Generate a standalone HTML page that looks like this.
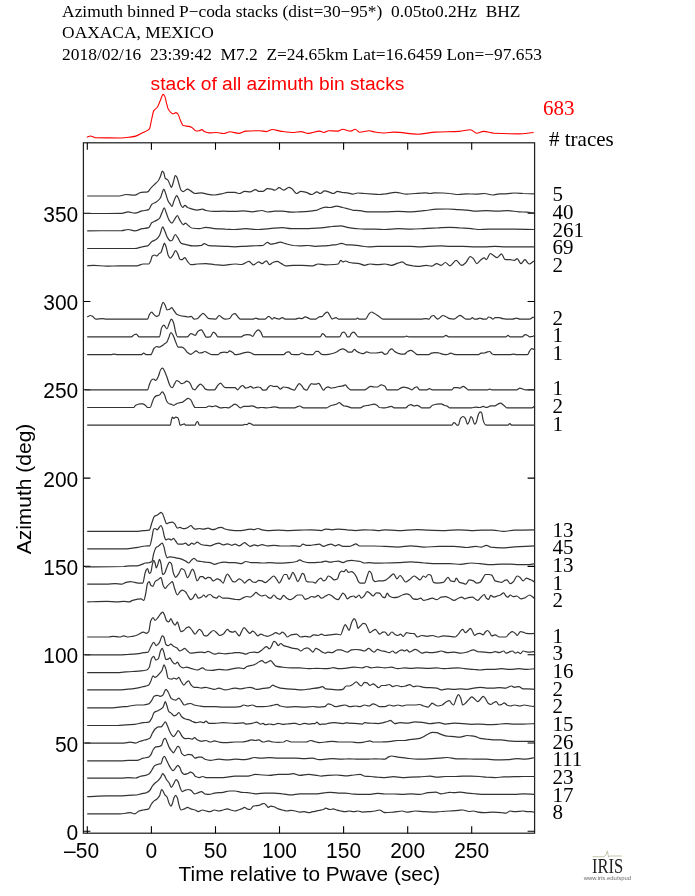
<!DOCTYPE html><html><head><meta charset="utf-8"><style>
html,body{margin:0;padding:0;background:#fff;}svg{display:block}
.serif{font-family:"Liberation Serif","Times New Roman",serif}
.sans{font-family:"Liberation Sans",Arial,sans-serif}
</style></head><body>
<svg width="695" height="896" viewBox="0 0 695 896">
<rect width="100%" height="100%" fill="#fff"/>
<g class="serif" font-size="17.4" fill="#000">
<text x="62.1" y="17.0">Azimuth binned P&#8722;coda stacks (dist=30&#8722;95*)&#160; 0.05to0.2Hz&#160; BHZ</text>
<text x="62.1" y="38.3">OAXACA, MEXICO</text>
<text x="62.1" y="59.5">2018/02/16&#160; 23:39:42&#160; M7.2&#160; Z=24.65km Lat=16.6459 Lon=&#8722;97.653</text>
</g>
<text class="sans" x="150.6" y="90.2" font-size="19.2" fill="#f00">stack of all azimuth bin stacks</text>
<text class="serif" x="543" y="115" font-size="21" fill="#f00">683</text>
<text class="serif" x="549" y="145.5" font-size="21" fill="#000"># traces</text>
<path fill="none" stroke="#f00" stroke-width="1.1" d="M86.9,137.3C88.1,136.9 89.2,136.0 90.4,136.0C91.9,136.0 93.5,137.5 95.0,137.6C103.8,137.9 112.6,138.0 121.4,138.0C124.3,138.0 127.1,137.5 130.0,137.1C131.9,136.8 133.9,136.6 135.8,136.1C138.2,135.5 140.6,133.8 143.0,132.5C145.1,131.4 147.3,131.3 149.4,128.9C150.1,128.1 150.9,122.6 151.6,119.5C152.3,116.6 153.0,112.1 153.7,110.9C154.9,108.9 156.1,109.0 157.3,107.3C158.3,105.9 159.2,102.9 160.2,100.8C161.2,98.7 162.1,94.4 163.1,94.4C163.6,94.4 164.0,95.1 164.5,95.8C165.2,96.9 166.0,101.1 166.7,103.7C167.2,105.4 167.6,107.9 168.1,108.7C169.8,111.7 171.5,113.8 173.2,113.8C174.1,113.8 175.1,112.6 176.0,112.6C176.7,112.6 177.5,113.5 178.2,114.5C178.9,115.5 179.7,118.7 180.4,120.3C181.3,122.4 182.3,125.3 183.2,125.6C185.1,126.2 187.1,126.0 189.0,126.4C190.0,126.6 190.9,126.9 191.9,127.4C193.3,128.1 194.8,131.0 196.2,131.0C197.2,131.0 198.1,130.9 199.1,130.8C200.0,130.7 200.8,129.6 201.7,129.6C202.7,129.6 203.8,131.4 204.8,131.8C206.2,132.4 207.7,132.9 209.1,132.9C211.5,132.9 213.9,132.5 216.3,132.5C218.7,132.5 221.1,133.5 223.5,133.5C225.7,133.5 227.8,131.8 230.0,131.8C232.9,131.8 235.9,133.4 238.8,133.4C241.1,133.4 243.4,131.2 245.7,131.1C250.3,130.8 254.9,130.7 259.5,130.7C261.8,130.7 264.2,131.6 266.5,131.6C268.4,131.6 270.3,129.5 272.2,129.5C274.9,129.5 277.6,130.7 280.3,131.1C284.9,131.7 289.5,132.5 294.1,132.5C296.4,132.5 298.7,131.6 301.0,131.6C303.3,131.6 305.7,133.4 308.0,133.4C311.8,133.4 315.7,131.1 319.5,131.1C321.0,131.1 322.5,132.5 324.0,132.5C325.6,132.5 327.1,130.7 328.7,130.7C331.8,130.7 334.8,131.1 337.9,131.1C339.4,131.1 341.0,129.3 342.5,129.3C345.2,129.3 347.9,131.1 350.6,131.1C352.1,131.1 353.7,129.3 355.2,129.3C356.7,129.3 358.3,132.3 359.8,132.3C362.9,132.3 365.9,130.7 369.0,130.7C370.9,130.7 372.9,131.7 374.8,132.0C378.2,132.5 381.6,133.0 385.0,133.0C387.9,133.0 390.9,132.1 393.8,132.1C401.9,132.1 409.9,134.2 418.0,134.2C423.7,134.2 429.5,132.4 435.2,132.1C443.3,131.7 451.3,131.8 459.4,131.4C463.1,131.2 466.8,129.7 470.5,129.7C472.6,129.7 474.6,133.2 476.7,133.2C479.0,133.2 481.3,131.4 483.6,131.4C487.1,131.4 490.5,133.0 494.0,133.2C502.0,133.6 510.1,133.9 518.1,133.9C523.3,133.9 528.5,133.0 533.7,132.5"/>
<rect x="83.4" y="142.8" width="451.20000000000005" height="690.4000000000001" fill="none" stroke="#222" stroke-width="1.25"/>
<path d="M87.3,833.2V826.2M87.3,142.8V149.8M151.4,833.2V826.2M151.4,142.8V149.8M215.5,833.2V826.2M215.5,142.8V149.8M279.5,833.2V826.2M279.5,142.8V149.8M343.6,833.2V826.2M343.6,142.8V149.8M407.7,833.2V826.2M407.7,142.8V149.8M471.7,833.2V826.2M471.7,142.8V149.8M83.4,831.3H90.4M534.6,831.3H527.6M83.4,743.0H90.4M534.6,743.0H527.6M83.4,654.7H90.4M534.6,654.7H527.6M83.4,566.4H90.4M534.6,566.4H527.6M83.4,478.1H90.4M534.6,478.1H527.6M83.4,389.8H90.4M534.6,389.8H527.6M83.4,301.5H90.4M534.6,301.5H527.6M83.4,213.2H90.4M534.6,213.2H527.6" stroke="#000" stroke-width="1.1" fill="none"/>
<g class="sans" font-size="22" fill="#000">
<text x="81.6" y="857.8" text-anchor="middle" textLength="35.0" lengthAdjust="spacingAndGlyphs">&#8211;50</text>
<text x="151.4" y="857.8" text-anchor="middle" textLength="11.7" lengthAdjust="spacingAndGlyphs">0</text>
<text x="215.5" y="857.8" text-anchor="middle" textLength="23.4" lengthAdjust="spacingAndGlyphs">50</text>
<text x="279.5" y="857.8" text-anchor="middle" textLength="35.0" lengthAdjust="spacingAndGlyphs">100</text>
<text x="343.6" y="857.8" text-anchor="middle" textLength="35.0" lengthAdjust="spacingAndGlyphs">150</text>
<text x="407.7" y="857.8" text-anchor="middle" textLength="35.0" lengthAdjust="spacingAndGlyphs">200</text>
<text x="471.7" y="857.8" text-anchor="middle" textLength="35.0" lengthAdjust="spacingAndGlyphs">250</text>
<text x="78.3" y="839.8" text-anchor="end" textLength="11.7" lengthAdjust="spacingAndGlyphs">0</text>
<text x="78.3" y="751.5" text-anchor="end" textLength="23.4" lengthAdjust="spacingAndGlyphs">50</text>
<text x="78.3" y="663.2" text-anchor="end" textLength="35.0" lengthAdjust="spacingAndGlyphs">100</text>
<text x="78.3" y="574.9" text-anchor="end" textLength="35.0" lengthAdjust="spacingAndGlyphs">150</text>
<text x="78.3" y="486.6" text-anchor="end" textLength="35.0" lengthAdjust="spacingAndGlyphs">200</text>
<text x="78.3" y="398.3" text-anchor="end" textLength="35.0" lengthAdjust="spacingAndGlyphs">250</text>
<text x="78.3" y="310.0" text-anchor="end" textLength="35.0" lengthAdjust="spacingAndGlyphs">300</text>
<text x="78.3" y="221.7" text-anchor="end" textLength="35.0" lengthAdjust="spacingAndGlyphs">350</text>
</g>
<text class="sans" font-size="20.8" x="178.6" y="880.6">Time relative to Pwave (sec)</text>
<text class="sans" font-size="21" transform="translate(31.2,489) rotate(-90)" text-anchor="middle">Azimuth (deg)</text>
<g class="serif" font-size="21" fill="#000">
<text x="552.4" y="201.1">5</text>
<text x="552.4" y="218.8">40</text>
<text x="552.4" y="236.5">261</text>
<text x="552.4" y="254.1">69</text>
<text x="552.4" y="271.8">2</text>
<text x="552.4" y="324.8">2</text>
<text x="552.4" y="342.4">1</text>
<text x="552.4" y="360.1">1</text>
<text x="552.4" y="395.4">1</text>
<text x="552.4" y="413.1">2</text>
<text x="552.4" y="430.7">1</text>
<text x="552.4" y="536.7">13</text>
<text x="552.4" y="554.3">45</text>
<text x="552.4" y="572.0">13</text>
<text x="552.4" y="589.7">1</text>
<text x="552.4" y="607.3">2</text>
<text x="552.4" y="642.6">1</text>
<text x="552.4" y="660.3">3</text>
<text x="552.4" y="678.0">16</text>
<text x="552.4" y="695.6">2</text>
<text x="552.4" y="713.3">2</text>
<text x="552.4" y="730.9">15</text>
<text x="552.4" y="748.6">26</text>
<text x="552.4" y="766.3">111</text>
<text x="552.4" y="783.9">23</text>
<text x="552.4" y="801.6">17</text>
<text x="552.4" y="819.2">8</text>
</g>
<g fill="none" stroke="#333" stroke-width="1.2" stroke-linejoin="round">
<path d="M87.2,196.0C97.9,196.0 108.7,196.0 119.5,196.0C121.7,196.0 123.8,194.5 126.0,194.5C128.9,194.5 131.8,195.2 134.6,195.2C136.8,195.2 139.0,192.6 141.1,192.4C143.3,192.1 145.4,192.2 147.6,191.9C148.7,191.8 149.7,189.2 150.8,188.1C151.9,186.9 153.0,185.9 154.1,184.8C155.5,183.4 156.9,182.5 158.4,180.5C159.1,179.5 159.8,177.9 160.5,176.2C161.1,174.8 161.7,171.2 162.3,171.2C162.8,171.2 163.3,172.1 163.8,172.9C164.3,173.8 164.8,177.8 165.3,178.3C166.1,179.2 166.9,179.1 167.7,179.9C168.3,180.5 169.0,182.4 169.6,183.7C170.2,184.9 170.8,187.4 171.3,187.4C172.1,187.4 172.8,183.8 173.5,181.6C174.1,179.8 174.6,175.5 175.2,175.5C175.7,175.5 176.2,176.2 176.7,176.8C177.4,177.8 178.2,181.5 178.9,183.7C179.6,186.0 180.3,189.4 181.0,190.2C181.8,191.0 182.5,191.7 183.2,191.7C184.6,191.7 186.1,189.1 187.5,189.1C188.6,189.1 189.7,190.3 190.8,190.9C192.2,191.7 193.6,193.5 195.1,193.5C197.2,193.5 199.4,192.8 201.5,192.8C203.0,192.8 204.4,193.6 205.9,193.9C208.7,194.4 211.6,195.0 214.5,195.0C217.4,195.0 220.3,194.1 223.1,193.5C224.6,193.2 226.0,192.4 227.4,192.4C230.0,192.4 232.5,192.4 235.0,192.4C236.4,192.4 237.9,193.5 239.3,193.5C241.1,193.5 242.9,191.3 244.7,191.3C246.5,191.3 248.3,191.9 250.1,191.9C251.9,191.9 253.7,189.6 255.5,189.6C256.6,189.6 257.7,191.3 258.7,191.3C260.2,191.3 261.6,191.3 263.1,191.3C264.5,191.3 265.9,188.7 267.4,188.7C268.8,188.7 270.3,188.9 271.7,189.1C272.8,189.3 273.8,190.2 274.9,190.2C276.4,190.2 277.8,187.6 279.2,187.6C280.7,187.6 282.1,190.2 283.6,190.2C285.4,190.2 287.2,187.4 289.0,187.4C290.0,187.4 291.1,188.4 292.2,189.1C293.6,190.1 295.1,193.5 296.5,193.5C297.9,193.5 299.4,191.3 300.8,191.3C302.6,191.3 304.4,191.9 306.2,192.4C308.0,192.9 309.8,194.5 311.6,194.5C313.4,194.5 315.2,191.9 317.0,191.9C318.1,191.9 319.2,193.5 320.3,193.5C321.7,193.5 323.1,190.9 324.6,190.9C326.4,190.9 328.2,191.8 330.0,192.4C331.0,192.7 332.1,193.5 333.2,193.5C334.6,193.5 336.1,191.3 337.5,191.3C339.0,191.3 340.4,192.2 341.8,192.4C343.6,192.6 345.4,192.6 347.2,192.8C349.0,193.0 350.8,194.1 352.6,194.1C354.4,194.1 356.2,193.0 358.0,193.0C360.2,193.0 362.3,193.3 364.5,193.5C367.4,193.7 370.3,193.9 373.1,194.1C375.3,194.3 377.4,194.5 379.6,194.5C381.4,194.5 383.2,194.1 385.0,193.9C388.6,193.4 392.2,192.4 395.8,192.4C399.4,192.4 403.0,194.1 406.6,194.1C409.5,194.1 412.3,193.7 415.2,193.5C418.5,193.2 421.7,192.8 424.9,192.8C426.7,192.8 428.5,193.5 430.3,193.5C431.8,193.5 433.2,192.8 434.6,192.8C437.5,192.8 440.4,192.9 443.3,193.0C445.4,193.1 447.6,193.3 449.7,193.5C452.6,193.7 455.5,194.5 458.4,194.5C461.3,194.5 464.1,193.9 467.0,193.9C469.9,193.9 472.8,194.1 475.6,194.1C478.5,194.1 481.4,193.5 484.3,193.5C487.2,193.5 490.0,195.0 492.9,195.0C495.1,195.0 497.2,193.9 499.4,193.9C501.5,193.9 503.7,193.9 505.9,193.9C508.7,193.9 511.6,193.0 514.5,193.0C517.4,193.0 520.3,193.3 523.1,193.5C526.7,193.6 530.3,193.7 533.9,193.9"/>
<path d="M85.0,213.5C97.2,213.5 109.5,213.5 121.7,213.3C123.8,213.3 126.0,211.8 128.2,211.8C130.3,211.8 132.5,213.1 134.6,213.1C137.2,213.1 139.7,211.5 142.2,210.9C144.4,210.4 146.5,210.5 148.7,209.6C149.7,209.2 150.8,205.1 151.9,204.2C153.3,203.1 154.8,203.0 156.2,202.1C157.7,201.1 159.1,200.1 160.5,197.8C161.1,196.8 161.7,193.8 162.3,192.4C162.8,191.1 163.3,189.1 163.8,189.1C164.3,189.1 164.8,191.1 165.3,192.4C166.2,194.7 167.2,199.1 168.1,201.0C168.8,202.4 169.5,203.3 170.3,204.2C170.8,205.0 171.4,206.4 172.0,206.4C172.6,206.4 173.3,202.5 173.9,201.0C174.9,198.9 175.8,195.6 176.7,195.6C177.2,195.6 177.7,196.9 178.2,197.8C179.2,199.5 180.1,203.8 181.0,205.3C181.6,206.3 182.2,207.5 182.8,207.5C183.5,207.5 184.2,205.3 184.9,205.3C185.8,205.3 186.7,207.1 187.5,207.5C188.6,208.0 189.7,208.3 190.8,208.6C192.9,209.2 195.1,210.1 197.2,210.1C199.0,210.1 200.8,209.2 202.6,209.2C203.7,209.2 204.8,210.3 205.9,210.5C208.7,211.0 211.6,211.4 214.5,211.4C217.4,211.4 220.3,211.2 223.1,211.2C227.1,211.2 231.0,211.4 235.0,211.4C237.9,211.4 240.8,210.9 243.6,210.9C246.5,210.9 249.4,211.8 252.3,211.8C255.5,211.8 258.7,210.5 262.0,210.5C263.8,210.5 265.6,212.0 267.4,212.0C269.9,212.0 272.4,211.2 274.9,211.2C277.4,211.2 280.0,211.2 282.5,211.2C285.4,211.2 288.2,212.2 291.1,212.2C294.0,212.2 296.9,211.9 299.7,211.8C302.6,211.7 305.5,211.6 308.4,211.4C311.3,211.2 314.1,210.7 317.0,210.1C318.5,209.7 319.9,208.8 321.3,208.3C322.8,207.9 324.2,207.1 325.6,207.1C327.1,207.1 328.5,207.5 330.0,207.5C332.1,207.5 334.3,206.2 336.4,206.2C338.6,206.2 340.8,207.0 342.9,207.5C344.4,207.8 345.8,208.2 347.2,208.6C349.0,209.0 350.8,209.8 352.6,210.1C355.1,210.4 357.7,210.4 360.2,210.7C362.3,211.0 364.5,211.8 366.7,211.8C369.5,211.8 372.4,211.8 375.3,211.8C378.5,211.8 381.8,211.8 385.0,211.8C389.3,211.8 393.6,211.4 397.9,211.4C402.3,211.4 406.6,211.8 410.9,211.8C415.2,211.8 419.5,211.1 423.8,210.7C428.2,210.3 432.5,209.4 436.8,209.2C440.4,209.1 444.0,209.0 447.6,209.0C451.2,209.0 454.8,209.4 458.4,209.6C461.3,209.8 464.1,209.9 467.0,210.1C469.9,210.3 472.8,211.2 475.6,211.2C479.2,211.2 482.8,210.7 486.4,210.7C490.0,210.7 493.6,211.2 497.2,211.2C500.8,211.2 504.4,210.7 508.0,210.7C511.6,210.7 515.2,211.6 518.8,211.8C521.7,212.0 524.6,212.0 527.4,212.2C529.6,212.4 531.8,212.7 533.9,212.9"/>
<path d="M87.2,230.8C98.7,230.7 110.2,230.8 121.7,230.6C123.8,230.5 126.0,229.5 128.2,229.5C130.3,229.5 132.5,230.8 134.6,230.8C137.2,230.8 139.7,229.2 142.2,228.6C144.4,228.2 146.5,228.3 148.7,227.6C149.7,227.2 150.8,223.4 151.9,222.6C153.0,221.8 154.1,221.7 155.1,221.1C156.6,220.3 158.0,219.8 159.5,218.3C160.4,217.3 161.3,213.8 162.3,211.8C162.9,210.4 163.6,207.9 164.2,207.9C164.8,207.9 165.4,210.4 165.9,211.8C167.0,214.4 168.1,218.9 169.2,220.4C170.1,221.8 171.0,223.2 172.0,223.2C172.8,223.2 173.7,220.6 174.6,219.4C175.5,218.0 176.4,215.7 177.4,215.7C178.2,215.7 179.1,219.1 180.0,220.4C181.0,222.1 182.1,224.7 183.2,224.7C183.9,224.7 184.6,223.2 185.4,223.2C186.4,223.2 187.5,225.0 188.6,225.8C189.7,226.6 190.8,227.8 191.8,228.0C194.4,228.4 196.9,228.6 199.4,228.6C201.5,228.6 203.7,227.3 205.9,227.3C208.7,227.3 211.6,228.4 214.5,228.6C218.1,228.9 221.7,228.9 225.3,229.1C228.5,229.2 231.8,229.5 235.0,229.5C238.6,229.5 242.2,228.6 245.8,228.6C249.4,228.6 253.0,229.5 256.6,229.5C260.9,229.5 265.2,229.0 269.5,228.6C273.8,228.3 278.2,227.6 282.5,227.6C285.4,227.6 288.2,228.6 291.1,228.6C294.0,228.6 296.9,228.6 299.7,228.6C302.6,228.6 305.5,228.6 308.4,228.6C311.3,228.6 314.1,228.4 317.0,228.2C319.9,228.0 322.8,227.7 325.6,227.3C327.8,227.1 330.0,226.7 332.1,226.5C335.0,226.2 337.9,225.8 340.8,225.8C342.9,225.8 345.1,226.9 347.2,227.3C350.1,227.9 353.0,228.4 355.9,228.6C358.7,228.8 361.6,229.1 364.5,229.1C368.1,229.1 371.7,229.1 375.3,229.1C378.5,229.1 381.8,229.5 385.0,229.5C389.3,229.5 393.6,228.6 397.9,228.6C402.3,228.6 406.6,229.1 410.9,229.1C415.2,229.1 419.5,228.8 423.8,228.6C428.2,228.5 432.5,228.2 436.8,228.0C441.1,227.8 445.4,227.3 449.7,227.3C453.3,227.3 456.9,227.8 460.5,228.0C464.1,228.2 467.7,228.3 471.3,228.6C473.5,228.8 475.6,229.5 477.8,229.5C481.4,229.5 485.0,229.1 488.6,229.1C492.9,229.1 497.2,229.1 501.5,229.1C505.9,229.1 510.2,229.1 514.5,229.1C521.0,229.1 527.4,229.4 533.9,229.5"/>
<path d="M87.2,248.5C103.0,248.5 118.8,248.5 134.6,248.5C137.2,248.5 139.7,247.2 142.2,246.8C144.0,246.4 145.8,246.4 147.6,245.9C149.0,245.5 150.5,242.5 151.9,241.6C153.3,240.6 154.8,240.5 156.2,239.4C157.3,238.6 158.4,237.5 159.5,235.5C160.0,234.6 160.5,232.6 161.0,231.2C161.5,229.7 162.1,226.9 162.7,226.9C163.3,226.9 163.8,228.9 164.4,230.1C165.3,232.0 166.2,235.1 167.0,236.6C168.1,238.5 169.2,240.9 170.3,240.9C171.0,240.9 171.7,240.4 172.4,239.9C173.3,239.1 174.3,234.5 175.2,234.5C176.1,234.5 176.9,236.5 177.8,237.7C178.9,239.2 180.0,242.5 181.0,243.1C182.8,244.0 184.6,244.2 186.4,244.6C188.6,245.1 190.8,245.9 192.9,245.9C195.8,245.9 198.7,245.7 201.5,245.3C202.4,245.1 203.3,243.7 204.1,243.7C205.4,243.7 206.7,245.0 208.0,245.3C210.2,245.6 212.3,245.8 214.5,245.9C218.1,246.1 221.7,246.2 225.3,246.3C228.5,246.5 231.8,246.8 235.0,246.8C237.9,246.8 240.8,246.5 243.6,246.3C246.5,246.2 249.4,246.1 252.3,245.9C255.9,245.7 259.5,245.7 263.1,245.3C264.5,245.1 265.9,242.4 267.4,242.4C268.5,242.4 269.5,244.2 270.6,244.2C272.1,244.2 273.5,243.8 274.9,243.5C276.7,243.2 278.5,242.2 280.3,242.2C282.1,242.2 283.9,243.3 285.7,243.7C288.2,244.4 290.8,245.2 293.3,245.5C295.4,245.7 297.6,245.9 299.7,245.9C302.6,245.9 305.5,245.5 308.4,245.5C310.5,245.5 312.7,246.3 314.9,246.3C317.7,246.3 320.6,246.1 323.5,245.9C325.6,245.8 327.8,245.5 330.0,245.3C332.1,245.0 334.3,244.9 336.4,244.6C338.2,244.3 340.0,243.3 341.8,243.3C343.3,243.3 344.7,244.8 346.2,244.8C347.9,244.8 349.7,244.8 351.5,244.8C354.4,244.8 357.3,245.6 360.2,245.9C363.1,246.2 365.9,246.8 368.8,246.8C371.7,246.8 374.6,246.3 377.4,246.3C380.0,246.3 382.5,246.3 385.0,246.3C389.3,246.3 393.6,246.3 397.9,246.3C402.3,246.3 406.6,246.3 410.9,246.3C413.8,246.3 416.7,246.8 419.5,246.8C422.4,246.8 425.3,246.4 428.2,246.3C432.5,246.2 436.8,245.9 441.1,245.9C444.0,245.9 446.9,246.3 449.7,246.3C454.1,246.3 458.4,246.3 462.7,246.3C467.0,246.3 471.3,246.8 475.6,246.8C478.5,246.8 481.4,246.8 484.3,246.8C487.9,246.8 491.5,246.3 495.1,246.3C498.7,246.3 502.3,246.8 505.9,246.8C508.7,246.8 511.6,246.8 514.5,246.8C521.0,246.8 527.4,246.8 533.9,246.8"/>
<path d="M87.2,265.8C89.3,265.6 91.5,265.3 93.6,265.3C97.9,265.3 102.3,266.2 106.6,266.2C110.9,266.2 115.2,265.8 119.5,265.8C122.4,265.8 125.3,265.8 128.2,265.8C131.0,265.8 133.9,265.8 136.8,265.8C139.0,265.8 141.1,264.0 143.3,264.0C145.1,264.0 146.9,264.0 148.7,264.0C149.4,264.0 150.1,261.9 150.8,260.4C151.3,259.3 151.8,256.5 152.3,256.0C153.1,255.4 153.8,255.0 154.5,255.0C155.3,255.0 156.1,256.0 156.9,256.0C157.5,256.0 158.2,254.4 158.8,253.9C159.5,253.3 160.3,253.2 161.0,252.4C161.7,251.6 162.4,248.2 163.1,246.3C163.6,245.2 164.0,243.1 164.4,243.1C164.9,243.1 165.4,245.0 165.9,246.3C166.7,248.3 167.4,253.4 168.1,255.0C168.8,256.5 169.5,258.2 170.3,258.2C171.0,258.2 171.7,256.9 172.4,256.0C173.5,254.7 174.6,250.6 175.6,250.6C176.4,250.6 177.1,252.5 177.8,253.9C178.5,255.2 179.2,259.0 180.0,259.3C180.7,259.5 181.4,259.7 182.1,259.7C183.0,259.7 183.8,257.6 184.7,257.6C185.6,257.6 186.6,260.3 187.5,261.4C188.6,262.7 189.7,264.7 190.8,264.7C192.9,264.7 195.1,264.2 197.2,264.0C200.1,263.8 203.0,263.6 205.9,263.6C208.7,263.6 211.6,264.4 214.5,264.7C217.4,264.9 220.3,265.3 223.1,265.3C227.1,265.3 231.0,264.0 235.0,264.0C237.2,264.0 239.3,264.5 241.5,264.5C244.0,264.5 246.5,261.4 249.0,261.4C250.5,261.4 251.9,264.9 253.3,264.9C255.1,264.9 256.9,261.9 258.7,261.9C259.8,261.9 260.9,263.6 262.0,263.6C263.4,263.6 264.9,260.8 266.3,260.8C267.4,260.8 268.5,264.7 269.5,264.7C270.6,264.7 271.7,262.9 272.8,262.5C274.2,262.0 275.6,261.4 277.1,261.4C278.5,261.4 280.0,262.9 281.4,263.6C282.8,264.3 284.3,265.8 285.7,265.8C288.2,265.8 290.8,265.3 293.3,265.3C296.2,265.3 299.0,265.3 301.9,265.3C305.5,265.3 309.1,265.8 312.7,265.8C314.5,265.8 316.3,264.0 318.1,264.0C320.6,264.0 323.1,264.9 325.6,264.9C328.5,264.9 331.4,264.7 334.3,264.5C335.6,264.4 336.9,264.3 338.2,264.0C339.0,263.8 339.9,260.4 340.8,260.4C341.5,260.4 342.2,261.9 342.9,261.9C343.8,261.9 344.6,261.0 345.5,261.0C346.8,261.0 348.1,262.3 349.4,262.5C351.2,262.9 353.0,263.0 354.8,263.2C356.2,263.3 357.7,263.4 359.1,263.6C360.9,263.9 362.7,265.3 364.5,265.3C366.3,265.3 368.1,264.0 369.9,264.0C372.4,264.0 374.9,264.7 377.4,264.7C380.0,264.7 382.5,264.0 385.0,264.0C387.2,264.0 389.3,265.3 391.5,265.3C393.6,265.3 395.8,263.8 397.9,263.2C399.4,262.7 400.8,261.9 402.3,261.9C403.7,261.9 405.1,264.3 406.6,264.7C408.7,265.3 410.9,265.5 413.1,265.8C414.9,266.0 416.7,266.4 418.5,266.4C421.0,266.4 423.5,265.3 426.0,265.3C427.8,265.3 429.6,266.2 431.4,266.2C433.2,266.2 435.0,263.6 436.8,263.6C438.2,263.6 439.7,265.3 441.1,265.3C442.6,265.3 444.0,262.5 445.4,262.5C446.9,262.5 448.3,265.8 449.7,265.8C451.9,265.8 454.1,260.4 456.2,260.4C458.0,260.4 459.8,265.3 461.6,265.3C463.1,265.3 464.5,263.8 465.9,262.5C467.4,261.2 468.8,256.5 470.3,256.5C471.3,256.5 472.4,257.8 473.5,258.8C474.6,259.9 475.6,263.6 476.7,263.6C478.2,263.6 479.6,260.7 481.0,259.7C482.1,258.9 483.2,257.8 484.3,257.8C485.0,257.8 485.7,259.7 486.4,259.7C487.7,259.7 489.0,253.5 490.3,253.5C491.2,253.5 492.1,254.5 492.9,255.0C494.4,255.8 495.8,257.6 497.2,257.6C498.7,257.6 500.1,253.9 501.5,253.9C502.6,253.9 503.7,259.1 504.8,259.3C506.6,259.6 508.4,259.5 510.2,259.7C511.6,259.9 513.1,260.4 514.5,260.4C515.4,260.4 516.2,258.6 517.1,258.6C518.4,258.6 519.7,263.6 521.0,263.6C522.3,263.6 523.6,259.7 524.9,259.7C526.3,259.7 527.7,264.0 529.2,264.0C530.8,264.0 532.3,262.0 533.9,261.0"/>
<path d="M87.2,317.0C88.2,316.5 89.3,315.5 90.4,315.5C91.1,315.5 91.8,315.9 92.6,316.3C93.6,316.9 94.7,319.1 95.8,319.1C97.9,319.1 100.1,318.7 102.3,318.7C103.7,318.7 105.1,319.1 106.6,319.1C120.3,319.1 133.9,319.1 147.6,319.1C148.2,319.1 148.7,315.8 149.3,314.8C150.0,313.6 150.8,312.2 151.5,312.2C152.2,312.2 152.9,313.5 153.6,314.2C154.5,314.9 155.4,316.3 156.2,316.3C157.1,316.3 157.9,316.0 158.8,315.5C159.4,315.1 160.0,311.2 160.5,309.4C161.4,306.7 162.3,302.3 163.1,302.3C163.8,302.3 164.6,304.2 165.3,305.5C165.9,306.6 166.4,309.9 167.0,309.9C167.7,309.9 168.5,309.6 169.2,309.4C170.0,309.2 170.9,307.7 171.8,307.7C172.5,307.7 173.2,309.6 173.9,310.5C174.9,311.7 175.8,313.6 176.7,314.2C177.8,314.8 178.9,315.2 180.0,315.5C181.4,315.9 182.8,316.1 184.3,316.3C185.7,316.6 187.2,317.0 188.6,317.0C189.5,317.0 190.3,316.3 191.2,316.3C192.1,316.3 193.1,319.1 194.0,319.1C195.1,319.1 196.2,319.0 197.2,318.7C198.3,318.5 199.4,316.4 200.5,315.5C201.3,314.7 202.2,313.3 203.1,313.3C204.0,313.3 204.9,315.1 205.9,315.9C206.9,316.9 208.0,318.6 209.1,318.7C211.3,319.0 213.4,319.1 215.6,319.1C216.8,319.1 218.0,315.5 219.2,315.5C220.2,315.5 221.1,317.1 222.1,317.6C223.1,318.3 224.2,319.1 225.3,319.1C226.7,319.1 228.2,318.9 229.6,318.5C230.7,318.2 231.8,314.5 232.8,314.2C233.6,313.9 234.3,313.7 235.0,313.7C235.7,313.7 236.4,315.2 237.2,315.9C238.2,317.0 239.3,319.1 240.4,319.1C244.7,319.1 249.0,319.1 253.3,319.1C254.2,319.1 255.1,318.1 255.9,318.1C256.9,318.1 257.8,319.1 258.7,319.1C260.9,319.1 263.1,319.1 265.2,319.1C266.3,319.1 267.4,316.3 268.5,316.3C269.2,316.3 269.9,317.1 270.6,317.6C271.1,318.0 271.6,319.1 272.1,319.1C272.8,319.1 273.6,317.6 274.3,317.6C275.2,317.6 276.2,318.5 277.1,318.7C277.8,318.9 278.5,319.1 279.2,319.1C280.3,319.1 281.4,317.6 282.5,317.6C283.3,317.6 284.2,319.1 285.1,319.1C288.5,319.1 292.0,319.1 295.4,319.1C296.5,319.1 297.6,318.1 298.7,318.1C299.7,318.1 300.8,318.7 301.9,318.7C303.0,318.7 304.1,316.8 305.1,316.8C306.2,316.8 307.3,317.6 308.4,318.1C309.1,318.4 309.8,319.1 310.5,319.1C312.3,319.1 314.1,319.1 315.9,319.1C317.0,319.1 318.1,317.0 319.2,316.8C320.3,316.5 321.3,316.6 322.4,316.3C323.1,316.1 323.8,314.3 324.6,313.7C325.5,313.0 326.4,312.2 327.4,312.2C328.1,312.2 328.8,313.8 329.5,314.8C330.4,316.0 331.3,319.1 332.1,319.1C333.4,319.1 334.7,317.6 336.0,317.6C336.9,317.6 337.7,319.1 338.6,319.1C344.4,319.1 350.1,319.1 355.9,319.1C356.4,319.1 356.9,318.1 357.4,318.1C357.9,318.1 358.5,319.1 359.1,319.1C361.3,319.1 363.4,319.1 365.6,319.1C366.7,319.1 367.7,315.3 368.8,314.2C369.7,313.3 370.5,312.0 371.4,312.0C372.3,312.0 373.3,312.8 374.2,313.3C376.0,314.3 377.8,315.8 379.6,317.0C380.7,317.7 381.8,319.1 382.8,319.1C383.6,319.1 384.3,319.1 385.0,319.1C385.7,319.1 386.4,319.1 387.2,319.1C398.3,319.1 409.5,319.1 420.6,319.1C422.4,319.1 424.2,318.7 426.0,318.7C427.1,318.7 428.2,319.1 429.2,319.1C430.0,319.1 430.7,316.8 431.4,316.3C432.1,315.9 432.8,315.5 433.6,315.5C434.3,315.5 435.0,317.0 435.7,317.6C436.4,318.2 437.2,319.1 437.9,319.1C438.8,319.1 439.7,317.7 440.7,317.0C441.4,316.5 442.1,315.5 442.8,315.5C444.1,315.5 445.3,316.4 446.5,317.0C447.6,317.5 448.7,318.5 449.7,318.7C451.2,319.0 452.6,319.1 454.1,319.1C455.1,319.1 456.2,317.7 457.3,317.0C458.2,316.4 459.2,315.3 460.1,315.3C461.0,315.3 461.8,316.4 462.7,317.0C463.8,317.7 464.9,319.1 465.9,319.1C467.4,319.1 468.8,319.1 470.3,319.1C471.0,319.1 471.7,317.6 472.4,317.6C473.1,317.6 473.8,319.1 474.6,319.1C475.3,319.1 476.0,319.1 476.7,319.1C477.8,319.1 478.9,318.1 480.0,318.1C481.0,318.1 482.1,319.1 483.2,319.1C484.3,319.1 485.4,319.1 486.4,319.1C487.2,319.1 487.9,317.0 488.6,317.0C489.3,317.0 490.0,317.3 490.8,317.6C491.5,317.9 492.2,319.1 492.9,319.1C493.6,319.1 494.4,317.6 495.1,317.6C496.5,317.6 497.9,317.6 499.4,317.6C500.5,317.6 501.5,318.5 502.6,318.7C503.7,318.9 504.8,319.1 505.9,319.1C508.0,319.1 510.2,319.1 512.3,319.1C513.8,319.1 515.2,318.1 516.7,318.1C517.7,318.1 518.8,319.1 519.9,319.1C523.1,319.1 526.4,319.1 529.6,319.1C530.7,319.1 531.8,317.7 532.8,317.4C533.6,317.2 534.3,317.1 535.0,317.0"/>
<path d="M87.2,336.8C101.9,336.8 116.7,336.8 131.4,336.8C132.3,336.8 133.3,335.0 134.2,334.7C134.9,334.5 135.6,334.2 136.4,334.2C137.2,334.2 138.1,336.8 139.0,336.8C145.8,336.8 152.6,336.8 159.5,336.8C160.2,336.8 160.9,329.1 161.6,327.8C162.3,326.4 163.1,325.2 163.8,325.2C164.9,325.2 165.9,328.8 167.0,328.8C167.7,328.8 168.5,325.1 169.2,323.5C169.9,321.9 170.6,319.1 171.3,319.1C172.1,319.1 172.8,320.8 173.5,322.4C174.2,324.0 174.9,329.7 175.6,332.1C176.2,334.0 176.8,336.8 177.4,336.8C180.8,336.8 184.1,336.8 187.5,336.8C188.6,336.8 189.7,333.6 190.8,333.6C191.5,333.6 192.2,334.0 192.9,334.2C193.6,334.5 194.4,335.3 195.1,335.3C196.2,335.3 197.2,331.6 198.3,331.0C199.4,330.4 200.5,329.9 201.5,329.9C202.3,329.9 203.0,332.1 203.7,333.2C204.6,334.5 205.4,337.1 206.3,337.1C207.6,337.1 208.9,337.0 210.2,336.8C211.3,336.7 212.3,332.1 213.4,332.1C214.3,332.1 215.1,333.3 216.0,334.2C216.6,334.9 217.2,336.8 217.7,336.8C223.5,336.8 229.2,336.8 235.0,336.8C237.2,336.8 239.3,336.8 241.5,336.8C242.2,336.8 242.9,335.6 243.6,335.3C244.7,335.0 245.8,334.7 246.9,334.7C247.9,334.7 249.0,334.8 250.1,334.9C251.0,335.0 251.8,336.4 252.7,336.4C253.6,336.4 254.6,333.0 255.5,332.1C256.4,331.1 257.4,329.9 258.3,329.9C259.2,329.9 260.0,331.0 260.9,332.1C261.6,333.0 262.3,336.8 263.1,336.8C282.1,336.8 301.2,336.8 320.3,336.8C321.0,336.8 321.7,333.6 322.4,333.6C322.9,333.6 323.4,333.9 323.9,334.2C324.6,334.7 325.4,336.8 326.1,336.8C330.6,336.8 335.1,336.8 339.7,336.8C340.5,336.8 341.4,332.9 342.3,332.5C342.8,332.3 343.4,332.1 344.0,332.1C344.7,332.1 345.4,333.6 346.2,334.7C346.5,335.2 346.9,336.8 347.2,336.8C347.9,336.8 348.7,336.8 349.4,336.8C350.1,336.8 350.8,333.7 351.5,333.2C352.3,332.6 353.0,332.1 353.7,332.1C354.4,332.1 355.1,333.5 355.9,334.2C356.6,335.0 357.3,336.8 358.0,336.8C367.0,336.8 376.0,336.8 385.0,336.8C385.7,336.8 386.4,336.8 387.2,336.8C392.9,336.8 398.7,336.8 404.4,336.8C405.1,336.8 405.9,336.2 406.6,336.2C407.3,336.2 408.0,336.8 408.7,336.8C420.3,336.8 431.8,336.8 443.3,336.8C444.1,336.8 445.0,335.3 445.9,335.3C446.8,335.3 447.7,336.8 448.7,336.8C467.7,336.8 486.8,336.8 505.9,336.8C506.6,336.8 507.3,335.3 508.0,335.3C508.7,335.3 509.5,336.8 510.2,336.8C514.1,336.8 518.1,336.8 522.1,336.8C523.1,336.8 524.2,334.7 525.3,334.7C526.0,334.7 526.7,335.0 527.4,335.3C528.2,335.6 528.9,336.8 529.6,336.8C530.7,336.8 531.8,336.6 532.8,336.4C533.6,336.2 534.3,335.7 535.0,335.3"/>
<path d="M87.2,354.7C95.1,354.7 103.0,354.7 110.9,354.7C112.0,354.7 113.1,354.1 114.1,354.1C115.2,354.1 116.3,354.7 117.4,354.7C125.3,354.7 133.2,354.7 141.1,354.7C142.0,354.7 142.8,353.2 143.7,353.2C144.6,353.2 145.6,354.7 146.5,354.7C147.9,354.7 149.4,354.7 150.8,354.7C151.9,354.7 153.0,349.3 154.1,348.3C154.9,347.4 155.8,346.5 156.7,346.5C157.6,346.5 158.5,347.2 159.5,347.2C160.9,347.2 162.3,345.4 163.8,344.4C164.9,343.6 165.9,343.2 167.0,341.8C167.7,340.9 168.5,338.1 169.2,336.4C169.7,335.0 170.3,332.5 170.9,332.5C171.6,332.5 172.3,334.1 173.1,335.3C173.9,336.8 174.8,339.8 175.6,341.8C176.5,343.8 177.4,347.2 178.2,347.2C179.4,347.2 180.5,347.2 181.7,347.2C182.6,347.2 183.4,348.0 184.3,348.7C185.4,349.5 186.4,351.8 187.5,352.6C188.6,353.4 189.7,354.3 190.8,354.3C191.8,354.3 192.9,352.8 194.0,352.2C194.7,351.7 195.4,350.9 196.2,350.9C197.2,350.9 198.3,353.0 199.4,353.0C200.5,353.0 201.5,352.8 202.6,352.6C203.3,352.4 204.1,351.5 204.8,351.5C205.9,351.5 206.9,352.6 208.0,353.0C209.5,353.6 210.9,354.7 212.3,354.7C214.1,354.7 215.9,354.7 217.7,354.7C218.8,354.7 219.9,352.8 221.0,352.6C222.1,352.4 223.1,352.2 224.2,352.2C225.3,352.2 226.4,352.6 227.4,352.6C228.2,352.6 228.9,350.9 229.6,350.9C230.7,350.9 231.8,351.8 232.8,352.6C233.6,353.1 234.3,354.7 235.0,354.7C236.4,354.7 237.9,354.4 239.3,354.1C241.1,353.8 242.9,352.9 244.7,352.6C245.8,352.4 246.9,352.2 247.9,352.2C249.0,352.2 250.1,352.6 251.2,353.0C252.3,353.4 253.3,354.7 254.4,354.7C264.1,354.7 273.8,354.7 283.6,354.7C284.6,354.7 285.7,352.3 286.8,352.2C287.5,352.0 288.2,351.9 289.0,351.9C289.8,351.9 290.7,354.1 291.5,354.3C292.5,354.6 293.4,354.7 294.4,354.7C295.8,354.7 297.2,354.7 298.7,354.7C299.7,354.7 300.8,353.0 301.9,353.0C303.0,353.0 304.1,354.1 305.1,354.3C306.2,354.5 307.3,354.7 308.4,354.7C309.8,354.7 311.3,354.7 312.7,354.7C313.8,354.7 314.9,351.7 315.9,351.5C316.7,351.4 317.4,351.3 318.1,351.3C319.2,351.3 320.3,353.7 321.3,354.1C322.2,354.4 323.1,354.7 323.9,354.7C325.6,354.7 327.2,354.5 328.9,354.3C330.7,354.1 332.5,353.6 334.3,353.0C335.4,352.7 336.4,352.1 337.5,351.5C338.6,350.9 339.7,349.7 340.8,349.4C341.5,349.1 342.2,348.9 342.9,348.9C344.0,348.9 345.1,349.8 346.2,350.4C346.9,350.9 347.6,352.2 348.3,352.2C349.4,352.2 350.5,352.2 351.5,352.2C352.5,352.2 353.4,349.4 354.4,349.4C355.2,349.4 356.1,351.0 356.9,351.5C358.0,352.2 359.1,352.7 360.2,353.0C361.3,353.3 362.3,353.7 363.4,353.7C364.5,353.7 365.6,351.9 366.7,351.9C368.1,351.9 369.5,353.0 371.0,353.0C372.4,353.0 373.8,353.0 375.3,353.0C376.4,353.0 377.4,352.7 378.5,352.6C379.6,352.4 380.7,352.2 381.8,352.2C382.8,352.2 383.9,354.3 385.0,354.3C385.7,354.3 386.4,354.0 387.2,353.7C387.9,353.3 388.6,351.0 389.3,350.4C390.2,349.7 391.0,348.9 391.9,348.9C392.8,348.9 393.8,350.9 394.7,351.5C395.8,352.2 396.9,352.9 397.9,353.2C399.0,353.6 400.1,354.1 401.2,354.1C402.3,354.1 403.3,354.1 404.4,354.1C405.5,354.1 406.6,352.0 407.7,351.5C408.7,351.0 409.8,350.4 410.9,350.4C412.0,350.4 413.1,351.5 414.1,352.2C415.2,352.8 416.3,354.7 417.4,354.7C421.0,354.7 424.6,354.7 428.2,354.7C429.2,354.7 430.3,353.5 431.4,353.2C432.5,352.9 433.6,352.6 434.6,352.6C436.1,352.6 437.5,352.8 439.0,353.0C440.4,353.2 441.8,354.1 443.3,354.3C444.4,354.5 445.4,354.7 446.5,354.7C447.9,354.7 449.4,353.2 450.8,353.2C451.9,353.2 453.0,354.1 454.1,354.3C455.1,354.5 456.2,354.7 457.3,354.7C464.1,354.7 471.0,354.7 477.8,354.7C478.9,354.7 480.0,353.4 481.0,353.2C482.1,353.1 483.2,353.1 484.3,353.0C485.4,352.9 486.4,352.2 487.5,351.9C488.2,351.8 489.0,351.5 489.7,351.5C490.4,351.5 491.1,353.2 491.8,353.7C492.6,354.1 493.3,354.7 494.0,354.7C499.4,354.7 504.8,354.7 510.2,354.7C511.3,354.7 512.3,354.1 513.4,354.1C514.5,354.1 515.6,354.7 516.7,354.7C520.3,354.7 523.8,354.7 527.4,354.7C528.2,354.7 528.9,352.0 529.6,351.1C530.3,350.1 531.0,348.7 531.8,348.7C532.5,348.7 533.2,349.0 533.9,349.4C534.3,349.5 534.6,350.1 535.0,350.4"/>
<path d="M85.0,389.8C105.9,389.8 126.7,389.8 147.6,389.8C148.2,389.8 148.7,386.3 149.3,384.8C150.0,383.0 150.8,380.3 151.5,379.9C152.2,379.4 152.9,379.0 153.6,379.0C154.4,379.0 155.1,380.5 155.8,380.5C156.7,380.5 157.5,378.0 158.4,376.2C159.2,374.4 160.1,369.8 161.0,369.1C161.5,368.6 162.1,368.2 162.7,368.2C163.4,368.2 164.1,370.4 164.9,371.9C165.6,373.3 166.3,375.3 167.0,377.3C167.7,379.2 168.5,382.1 169.2,383.7C169.7,385.1 170.3,386.6 170.9,387.0C171.4,387.3 171.9,387.6 172.4,387.6C173.1,387.6 173.8,384.9 174.6,383.7C175.3,382.6 176.0,380.5 176.7,380.5C177.4,380.5 178.2,381.2 178.9,381.6C179.8,382.1 180.8,383.7 181.7,383.7C182.6,383.7 183.4,383.1 184.3,382.7C185.0,382.3 185.7,381.2 186.4,381.2C187.3,381.2 188.2,381.5 189.0,382.0C189.6,382.3 190.2,383.8 190.8,384.8C191.5,386.1 192.2,388.8 192.9,389.1C193.6,389.5 194.4,389.8 195.1,389.8C195.8,389.8 196.5,387.7 197.2,387.0C198.3,385.8 199.4,384.2 200.5,384.2C201.4,384.2 202.3,385.4 203.3,386.3C204.0,387.0 204.7,388.8 205.4,389.1C206.3,389.5 207.2,389.8 208.0,389.8C210.2,389.8 212.3,389.8 214.5,389.8C215.6,389.8 216.7,386.6 217.7,385.5C218.7,384.5 219.6,383.1 220.5,383.1C221.4,383.1 222.3,385.1 223.1,385.9C223.8,386.6 224.6,387.6 225.3,387.6C228.5,387.6 231.8,387.6 235.0,387.6C235.9,387.6 236.7,389.8 237.6,389.8C238.3,389.8 239.0,388.3 239.7,387.6C240.7,386.8 241.6,385.5 242.6,385.5C243.6,385.5 244.7,388.1 245.8,388.1C246.5,388.1 247.2,387.8 247.9,387.6C248.8,387.4 249.7,386.3 250.5,386.3C251.5,386.3 252.4,388.1 253.3,388.1C254.1,388.1 254.8,387.8 255.5,387.6C256.4,387.4 257.4,387.0 258.3,387.0C259.0,387.0 259.7,387.3 260.5,387.6C261.3,388.0 262.2,390.2 263.1,390.2C264.1,390.2 265.2,390.1 266.3,389.8C267.0,389.6 267.7,387.6 268.5,387.0C269.2,386.3 269.9,385.5 270.6,385.5C271.7,385.5 272.8,386.5 273.8,386.5C274.9,386.5 276.0,386.3 277.1,386.3C278.2,386.3 279.2,389.1 280.3,389.1C281.4,389.1 282.5,387.0 283.6,387.0C285.0,387.0 286.4,387.3 287.9,387.6C289.0,387.9 290.0,388.7 291.1,389.1C292.2,389.6 293.3,390.2 294.4,390.2C295.1,390.2 295.8,387.9 296.5,387.0C297.4,385.8 298.4,383.7 299.3,383.7C300.2,383.7 301.0,385.0 301.9,385.9C302.6,386.7 303.3,388.7 304.1,389.1C304.9,389.7 305.8,390.2 306.7,390.2C307.6,390.2 308.5,387.0 309.5,385.9C310.2,385.0 310.9,383.7 311.6,383.7C312.3,383.7 313.1,384.2 313.8,384.2C314.5,384.2 315.2,384.2 315.9,384.2C316.9,384.2 317.8,383.3 318.7,383.3C319.5,383.3 320.2,385.3 320.9,386.3C321.8,387.6 322.6,390.2 323.5,390.2C324.2,390.2 324.9,388.5 325.6,388.1C326.5,387.5 327.4,386.8 328.2,386.8C329.2,386.8 330.1,388.1 331.0,388.1C332.1,388.1 333.2,387.8 334.3,387.6C335.7,387.4 337.2,386.8 338.6,386.5C340.0,386.3 341.5,386.2 342.9,385.9C343.8,385.7 344.6,384.8 345.5,384.8C346.1,384.8 346.7,386.4 347.2,387.0C348.3,388.1 349.4,389.8 350.5,389.8C355.1,389.8 359.8,389.8 364.5,389.8C365.6,389.8 366.7,388.7 367.7,388.1C368.7,387.5 369.6,386.3 370.5,386.3C371.8,386.3 373.0,387.0 374.2,387.0C375.3,387.0 376.4,387.0 377.4,387.0C378.7,387.0 380.0,384.8 381.3,384.8C382.6,384.8 383.8,385.5 385.0,386.3C385.7,386.8 386.4,389.8 387.2,389.8C390.8,389.8 394.4,389.8 397.9,389.8C398.8,389.8 399.7,388.4 400.5,388.1C401.5,387.7 402.4,387.2 403.3,387.2C404.4,387.2 405.5,387.4 406.6,387.6C407.4,387.8 408.3,388.2 409.2,388.5C410.1,388.9 411.0,389.8 412.0,389.8C412.9,389.8 413.8,388.1 414.8,387.6C415.5,387.3 416.2,386.8 416.9,386.8C417.8,386.8 418.7,389.8 419.5,389.8C422.1,389.8 424.6,389.8 427.1,389.8C427.8,389.8 428.5,388.7 429.2,388.7C430.3,388.7 431.4,389.8 432.5,389.8C439.0,389.8 445.4,389.8 451.9,389.8C452.6,389.8 453.3,387.6 454.1,387.6C455.1,387.6 456.2,387.6 457.3,387.6C458.2,387.6 459.2,388.1 460.1,388.1C461.1,388.1 462.1,386.3 463.1,386.3C464.1,386.3 465.0,387.4 465.9,388.1C466.7,388.6 467.4,389.8 468.1,389.8C474.6,389.8 481.0,389.8 487.5,389.8C488.2,389.8 489.0,389.1 489.7,389.1C490.4,389.1 491.1,389.8 491.8,389.8C500.1,389.8 508.4,389.8 516.7,389.8C517.7,389.8 518.8,388.1 519.9,388.1C521.0,388.1 522.1,388.8 523.1,389.1C523.8,389.4 524.6,389.8 525.3,389.8C528.5,389.8 531.8,389.8 535.0,389.8"/>
<path d="M87.2,407.5C102.6,407.5 118.1,407.5 133.6,407.5C134.3,407.5 135.0,405.7 135.7,405.3C137.2,404.5 138.6,403.8 140.0,403.8C141.0,403.8 141.9,403.8 142.8,403.8C143.7,403.8 144.6,404.7 145.4,405.3C146.2,405.9 146.9,407.5 147.6,407.5C148.5,407.5 149.3,407.5 150.2,407.5C150.9,407.5 151.6,403.9 152.3,402.1C152.9,400.6 153.5,398.5 154.1,397.8C154.9,396.7 155.8,395.9 156.7,395.6C157.6,395.3 158.5,395.3 159.5,395.0C160.4,394.6 161.3,391.9 162.3,391.9C163.0,391.9 163.7,393.3 164.4,394.5C165.1,395.8 165.9,399.8 166.6,401.0C167.4,402.4 168.3,403.5 169.2,403.8C169.9,404.1 170.6,404.1 171.3,404.2C172.2,404.5 173.1,405.3 173.9,405.3C174.9,405.3 175.8,403.9 176.7,403.6C177.8,403.2 178.9,403.0 180.0,402.7C180.8,402.5 181.7,402.4 182.6,402.1C183.5,401.7 184.4,400.5 185.4,399.9C186.3,399.3 187.2,398.4 188.2,398.4C189.0,398.4 189.9,399.1 190.8,399.9C191.5,400.6 192.2,403.0 192.9,404.2C193.6,405.5 194.4,407.5 195.1,407.5C198.7,407.5 202.3,407.5 205.9,407.5C206.9,407.5 208.0,406.0 209.1,406.0C210.2,406.0 211.3,406.6 212.3,406.6C213.4,406.6 214.5,405.8 215.6,405.8C216.5,405.8 217.4,406.7 218.4,407.1C219.2,407.4 220.1,407.9 221.0,407.9C222.4,407.9 223.8,407.5 225.3,407.5C226.4,407.5 227.4,407.9 228.5,407.9C229.6,407.9 230.7,406.6 231.8,406.0C232.8,405.4 233.9,404.2 235.0,404.2C235.7,404.2 236.4,404.9 237.2,405.3C238.2,406.0 239.3,407.9 240.4,407.9C241.5,407.9 242.6,406.4 243.6,406.4C245.1,406.4 246.5,406.4 247.9,406.4C249.4,406.4 250.8,405.8 252.3,405.8C253.3,405.8 254.4,406.6 255.5,407.1C256.2,407.3 256.9,407.9 257.7,407.9C259.1,407.9 260.5,407.5 262.0,407.5C263.4,407.5 264.9,407.9 266.3,407.9C267.7,407.9 269.2,407.7 270.6,407.5C272.1,407.3 273.5,406.8 274.9,406.8C276.7,406.8 278.5,407.9 280.3,407.9C285.0,407.9 289.7,407.9 294.4,407.9C295.1,407.9 295.8,407.3 296.5,407.1C297.6,406.7 298.7,406.0 299.7,406.0C301.0,406.0 302.3,407.9 303.6,407.9C311.3,407.9 319.0,407.9 326.7,407.9C327.8,407.9 328.9,406.4 330.0,406.0C331.3,405.5 332.6,405.2 333.8,404.9C334.7,404.7 335.6,404.5 336.4,404.2C337.4,403.9 338.3,402.5 339.2,402.5C340.0,402.5 340.7,403.7 341.4,404.2C342.3,404.9 343.1,405.8 344.0,406.0C345.1,406.2 346.2,406.2 347.2,406.4C348.7,406.7 350.1,407.9 351.5,407.9C354.4,407.9 357.3,407.9 360.2,407.9C361.6,407.9 363.1,406.0 364.5,405.8C365.9,405.5 367.4,405.5 368.8,405.3C370.6,405.1 372.4,404.2 374.2,404.2C375.1,404.2 376.1,404.8 377.0,405.3C377.9,405.8 378.7,407.3 379.6,407.5C380.7,407.7 381.8,407.9 382.8,407.9C383.6,407.9 384.3,407.9 385.0,407.9C386.1,407.9 387.2,407.3 388.2,407.1C389.3,406.8 390.4,406.4 391.5,406.4C392.6,406.4 393.6,407.9 394.7,407.9C398.3,407.9 401.9,407.9 405.5,407.9C406.6,407.9 407.7,405.8 408.7,405.3C409.5,405.0 410.2,404.7 410.9,404.7C412.0,404.7 413.1,406.0 414.1,406.0C415.1,406.0 416.0,405.3 416.9,405.3C417.8,405.3 418.7,405.9 419.5,406.4C420.3,406.8 421.0,407.9 421.7,407.9C424.2,407.9 426.7,407.9 429.2,407.9C430.3,407.9 431.4,405.7 432.5,405.3C433.9,404.8 435.4,404.5 436.8,404.2C438.2,404.0 439.7,403.8 441.1,403.8C442.2,403.8 443.3,404.9 444.4,405.3C445.4,405.7 446.5,405.9 447.6,406.4C448.3,406.7 449.0,407.9 449.7,407.9C456.9,407.9 464.1,407.9 471.3,407.9C472.8,407.9 474.2,407.1 475.6,407.1C477.1,407.1 478.5,407.5 480.0,407.5C481.0,407.5 482.1,406.4 483.2,406.4C484.3,406.4 485.4,407.5 486.4,407.5C487.9,407.5 489.3,405.8 490.8,405.8C492.2,405.8 493.6,405.8 495.1,405.8C495.9,405.8 496.8,404.6 497.7,404.2C498.6,403.8 499.5,403.2 500.5,403.2C501.5,403.2 502.6,404.5 503.7,405.3C504.8,406.1 505.9,407.9 506.9,407.9C515.2,407.9 523.5,407.9 531.8,407.9C532.8,407.9 533.9,406.5 535.0,405.8"/>
<path d="M87.2,425.2C114.9,425.2 142.6,425.2 170.3,425.2C170.6,425.2 171.0,421.7 171.3,420.4C171.7,419.1 172.1,417.2 172.4,417.2C172.9,417.2 173.4,418.3 173.9,418.3C174.5,418.3 175.1,417.2 175.6,417.2C176.4,417.2 177.1,417.4 177.8,417.8C178.2,418.1 178.7,419.6 179.1,421.1C179.4,422.0 179.7,425.2 180.0,425.2C180.7,425.2 181.4,424.9 182.1,424.7C182.8,424.6 183.6,423.9 184.3,423.9C184.8,423.9 185.3,425.2 185.8,425.2C188.9,425.2 192.0,425.2 195.1,425.2C195.6,425.2 196.1,422.3 196.6,421.9C196.9,421.7 197.3,421.5 197.7,421.5C198.2,421.5 198.8,425.2 199.4,425.2C211.3,425.2 223.1,425.2 235.0,425.2C237.5,425.2 240.0,425.2 242.6,425.2C243.3,425.2 244.0,424.3 244.7,424.3C245.4,424.3 246.2,424.7 246.9,424.7C247.6,424.7 248.3,423.2 249.0,423.2C249.7,423.2 250.5,423.6 251.2,423.9C251.9,424.2 252.6,425.2 253.3,425.2C297.2,425.2 341.1,425.2 385.0,425.2C385.7,425.2 386.4,425.2 387.2,425.2C408.7,425.2 430.3,425.2 451.9,425.2C452.5,425.2 453.1,422.6 453.6,422.6C454.1,422.6 454.6,422.8 455.1,423.0C455.6,423.3 456.2,425.2 456.7,425.2C457.2,425.2 457.8,425.2 458.4,425.2C459.1,425.2 459.8,419.1 460.5,418.3C461.4,417.3 462.3,416.5 463.1,416.5C463.8,416.5 464.6,417.4 465.3,418.3C466.0,419.2 466.7,424.1 467.4,424.1C468.0,424.1 468.6,422.6 469.2,421.5C469.7,420.4 470.3,416.5 470.9,416.5C471.4,416.5 471.9,417.5 472.4,418.3C473.1,419.4 473.8,424.1 474.6,424.1C475.1,424.1 475.6,423.3 476.1,422.6C476.8,421.5 477.5,416.8 478.2,415.0C478.8,413.6 479.4,411.8 480.0,411.8C480.5,411.8 481.1,412.2 481.7,412.9C482.2,413.4 482.7,419.0 483.2,420.4C483.9,422.5 484.6,424.5 485.4,424.7C486.1,425.0 486.8,425.2 487.5,425.2C494.4,425.2 501.2,425.2 508.0,425.2C508.6,425.2 509.2,423.7 509.7,423.7C510.5,423.7 511.2,425.2 511.9,425.2C519.6,425.2 527.3,425.2 535.0,425.2"/>
<path d="M87.2,531.3C103.0,531.3 118.8,531.3 134.6,531.3C137.5,531.3 140.4,530.9 143.3,530.6C145.3,530.5 147.3,530.5 149.3,530.2C150.2,530.1 151.0,525.0 151.9,522.7C152.8,520.3 153.6,516.8 154.5,516.2C155.4,515.6 156.4,515.6 157.3,515.1C158.0,514.7 158.7,513.9 159.5,513.4C160.0,513.0 160.5,512.3 161.0,512.3C161.5,512.3 162.1,513.2 162.7,514.0C163.4,515.1 164.1,518.1 164.9,519.9C165.4,521.3 166.0,523.7 166.6,523.7C167.4,523.7 168.3,522.8 169.2,522.7C170.3,522.4 171.3,522.2 172.4,522.2C173.1,522.2 173.8,523.1 174.6,523.7C175.5,524.6 176.4,528.1 177.4,528.1C178.2,528.1 179.1,527.4 180.0,527.4C181.0,527.4 182.1,528.7 183.2,528.7C184.3,528.7 185.4,528.4 186.4,528.1C187.2,527.8 187.9,527.4 188.6,527.0C189.3,526.6 190.0,525.5 190.8,525.5C191.5,525.5 192.2,527.0 192.9,527.6C193.6,528.2 194.4,529.1 195.1,529.1C196.5,529.1 197.9,528.5 199.4,528.5C200.8,528.5 202.3,529.1 203.7,529.1C205.1,529.1 206.6,528.1 208.0,528.1C209.5,528.1 210.9,529.6 212.3,529.6C213.4,529.6 214.5,529.4 215.6,529.1C216.7,528.9 217.7,527.8 218.8,527.6C219.7,527.5 220.5,527.4 221.4,527.4C222.3,527.4 223.3,528.4 224.2,528.7C225.6,529.2 227.1,529.5 228.5,529.8C230.7,530.2 232.8,530.6 235.0,530.6C237.2,530.6 239.3,530.6 241.5,530.6C242.9,530.6 244.4,530.0 245.8,529.8C247.2,529.5 248.7,529.1 250.1,529.1C251.5,529.1 253.0,529.6 254.4,529.6C255.5,529.6 256.6,528.5 257.7,528.5C259.1,528.5 260.5,529.5 262.0,529.8C263.8,530.2 265.6,530.6 267.4,530.6C271.0,530.6 274.6,530.2 278.2,530.2C281.8,530.2 285.4,530.6 289.0,530.6C292.6,530.6 296.2,530.4 299.7,530.2C303.3,530.1 306.9,529.8 310.5,529.8C314.1,529.8 317.7,530.6 321.3,530.6C322.8,530.6 324.2,529.1 325.6,529.1C327.8,529.1 330.0,529.8 332.1,529.8C334.3,529.8 336.4,529.1 338.6,529.1C341.5,529.1 344.4,529.5 347.2,529.8C350.1,530.0 353.0,530.6 355.9,530.6C358.7,530.6 361.6,529.8 364.5,529.8C367.4,529.8 370.3,530.1 373.1,530.2C375.3,530.3 377.4,530.6 379.6,530.6C381.4,530.6 383.2,529.8 385.0,529.8C389.3,529.8 393.6,530.6 397.9,530.6C404.4,530.6 410.9,529.6 417.4,529.6C421.0,529.6 424.6,530.1 428.2,530.2C433.9,530.4 439.7,530.6 445.4,530.6C449.7,530.6 454.1,529.8 458.4,529.8C462.7,529.8 467.0,530.6 471.3,530.6C474.9,530.6 478.5,530.2 482.1,530.2C485.7,530.2 489.3,530.2 492.9,530.2C496.5,530.2 500.1,531.3 503.7,531.3C507.3,531.3 510.9,530.3 514.5,530.2C521.3,530.0 528.2,529.9 535.0,529.8"/>
<path d="M87.2,548.8C99.4,548.8 111.6,548.8 123.8,548.8C126.7,548.8 129.6,548.4 132.5,548.1C134.6,547.9 136.8,547.4 139.0,547.1C141.1,546.7 143.3,546.1 145.4,546.0C146.9,545.9 148.3,545.9 149.7,545.8C150.5,545.7 151.2,540.8 151.9,537.8C152.5,535.3 153.1,529.6 153.6,529.1C154.1,528.7 154.6,528.5 155.1,528.5C155.9,528.5 156.6,529.8 157.3,529.8C158.0,529.8 158.7,527.8 159.5,527.0C160.0,526.4 160.5,525.5 161.0,525.5C161.5,525.5 162.1,527.5 162.7,529.1C163.3,530.8 163.8,535.0 164.4,536.7C164.9,538.1 165.4,539.9 165.9,539.9C166.9,539.9 167.8,538.8 168.7,538.8C169.6,538.8 170.5,539.9 171.3,539.9C172.1,539.9 172.8,538.4 173.5,538.4C174.2,538.4 174.9,540.1 175.6,541.0C176.5,542.1 177.4,544.2 178.2,544.2C179.5,544.2 180.8,544.2 182.1,544.2C183.2,544.2 184.3,543.2 185.4,543.2C186.4,543.2 187.5,545.3 188.6,545.3C189.7,545.3 190.8,543.2 191.8,543.2C192.6,543.2 193.3,544.2 194.0,544.2C195.1,544.2 196.2,542.1 197.2,542.1C198.3,542.1 199.4,543.9 200.5,544.2C202.3,544.8 204.1,545.1 205.9,545.3C207.3,545.5 208.7,545.8 210.2,545.8C211.6,545.8 213.1,544.7 214.5,544.2C215.9,543.8 217.4,543.2 218.8,543.2C220.3,543.2 221.7,544.9 223.1,544.9C224.6,544.9 226.0,543.8 227.4,543.8C228.9,543.8 230.3,545.3 231.8,545.3C232.8,545.3 233.9,544.2 235.0,544.2C236.4,544.2 237.9,545.8 239.3,545.8C241.1,545.8 242.9,542.7 244.7,542.7C245.4,542.7 246.2,543.8 246.9,544.2C247.9,545.0 249.0,546.4 250.1,546.4C251.5,546.4 253.0,544.9 254.4,544.9C255.5,544.9 256.6,545.8 257.7,545.8C259.1,545.8 260.5,544.7 262.0,544.7C263.8,544.7 265.6,545.8 267.4,545.8C269.5,545.8 271.7,545.3 273.8,545.3C276.0,545.3 278.2,546.0 280.3,546.0C283.2,546.0 286.1,546.0 289.0,546.0C291.1,546.0 293.3,545.8 295.4,545.8C296.9,545.8 298.3,546.4 299.7,546.4C300.8,546.4 301.9,544.2 303.0,544.2C304.1,544.2 305.1,545.3 306.2,545.3C307.7,545.3 309.1,545.3 310.5,545.3C312.0,545.3 313.4,544.8 314.9,544.7C316.3,544.5 317.7,544.2 319.2,544.2C320.6,544.2 322.1,546.4 323.5,546.4C324.9,546.4 326.4,545.3 327.8,544.9C328.9,544.6 330.0,544.2 331.0,544.2C332.5,544.2 333.9,545.8 335.4,545.8C336.4,545.8 337.5,544.7 338.6,544.7C340.0,544.7 341.5,546.4 342.9,546.4C345.1,546.4 347.2,546.4 349.4,546.4C350.5,546.4 351.5,545.7 352.6,545.3C353.7,544.9 354.8,543.8 355.9,543.8C356.9,543.8 358.0,545.7 359.1,545.8C360.9,545.9 362.7,546.0 364.5,546.0C367.4,546.0 370.3,546.0 373.1,546.0C377.1,546.0 381.0,546.2 385.0,546.4C389.3,546.6 393.6,547.1 397.9,547.1C402.3,547.1 406.6,545.8 410.9,545.8C415.2,545.8 419.5,547.1 423.8,547.1C428.9,547.1 433.9,546.4 439.0,546.4C444.0,546.4 449.0,546.4 454.1,546.4C458.4,546.4 462.7,547.5 467.0,547.5C469.9,547.5 472.8,546.4 475.6,546.4C477.4,546.4 479.2,547.1 481.0,547.1C482.8,547.1 484.6,545.3 486.4,545.3C487.9,545.3 489.3,546.8 490.8,547.1C494.4,547.6 497.9,547.9 501.5,547.9C505.9,547.9 510.2,547.1 514.5,546.8C518.1,546.6 521.7,546.6 525.3,546.4C528.5,546.2 531.8,546.0 535.0,545.8"/>
<path d="M85.0,566.9C97.9,566.8 110.9,566.8 123.8,566.5C126.0,566.4 128.2,565.8 130.3,565.8C132.5,565.8 134.6,565.8 136.8,565.8C138.2,565.8 139.7,565.2 141.1,564.7C142.6,564.3 144.0,563.3 145.4,563.0C146.7,562.8 148.0,562.8 149.3,562.6C150.2,562.4 151.0,562.2 151.9,561.5C152.5,561.0 153.1,555.9 153.6,554.0C154.4,551.5 155.1,548.7 155.8,547.9C156.5,547.1 157.2,546.9 157.9,546.4C158.8,545.7 159.7,544.9 160.5,544.2C161.1,543.8 161.7,543.2 162.3,543.2C162.8,543.2 163.3,545.0 163.8,546.4C164.3,547.8 164.8,551.1 165.3,552.9C165.9,554.9 166.4,557.8 167.0,557.8C167.9,557.8 168.7,556.8 169.6,556.8C170.5,556.8 171.5,557.0 172.4,557.2C173.5,557.4 174.6,557.6 175.6,557.8C177.1,558.1 178.5,558.3 180.0,558.7C181.8,559.2 183.6,559.9 185.4,560.9C186.4,561.4 187.5,563.0 188.6,563.0C189.5,563.0 190.3,561.2 191.2,560.4C192.1,559.6 193.1,558.3 194.0,558.3C195.1,558.3 196.2,560.6 197.2,560.9C198.7,561.2 200.1,561.3 201.5,561.5C203.0,561.7 204.4,562.0 205.9,562.2C207.3,562.3 208.7,562.4 210.2,562.6C211.6,562.8 213.1,564.3 214.5,564.3C215.9,564.3 217.4,563.3 218.8,563.0C220.6,562.6 222.4,562.2 224.2,562.2C226.0,562.2 227.8,562.6 229.6,562.6C231.4,562.6 233.2,562.6 235.0,562.6C237.2,562.6 239.3,563.7 241.5,563.7C242.9,563.7 244.4,561.5 245.8,561.5C247.6,561.5 249.4,562.6 251.2,562.6C253.0,562.6 254.8,562.6 256.6,562.6C258.7,562.6 260.9,563.0 263.1,563.0C265.2,563.0 267.4,562.6 269.5,562.6C272.4,562.6 275.3,563.2 278.2,563.2C281.8,563.2 285.4,562.9 289.0,562.6C291.5,562.4 294.0,562.1 296.5,561.5C297.6,561.2 298.7,559.8 299.7,559.8C300.8,559.8 301.9,561.2 303.0,561.5C304.8,562.1 306.6,562.6 308.4,562.6C310.5,562.6 312.7,562.6 314.9,562.6C317.0,562.6 319.2,562.4 321.3,562.2C322.8,562.0 324.2,561.1 325.6,561.1C327.1,561.1 328.5,562.2 330.0,562.2C331.4,562.2 332.8,561.7 334.3,561.5C335.7,561.3 337.2,561.1 338.6,561.1C340.0,561.1 341.5,562.6 342.9,562.6C344.4,562.6 345.8,561.1 347.2,560.9C348.7,560.6 350.1,560.4 351.5,560.4C353.0,560.4 354.4,560.7 355.9,560.9C357.3,561.0 358.7,561.2 360.2,561.5C361.6,561.8 363.1,563.0 364.5,563.0C365.9,563.0 367.4,562.6 368.8,562.6C371.0,562.6 373.1,563.2 375.3,563.2C378.5,563.2 381.8,563.1 385.0,563.0C389.3,562.9 393.6,562.8 397.9,562.6C402.3,562.4 406.6,561.9 410.9,561.9C415.2,561.9 419.5,562.8 423.8,563.0C428.2,563.3 432.5,563.7 436.8,563.7C441.1,563.7 445.4,563.7 449.7,563.7C453.3,563.7 456.9,564.3 460.5,564.3C464.1,564.3 467.7,563.0 471.3,563.0C474.2,563.0 477.1,563.4 480.0,563.7C483.6,564.0 487.2,564.7 490.8,564.7C494.4,564.7 497.9,564.1 501.5,564.1C504.4,564.1 507.3,564.1 510.2,564.1C513.1,564.1 515.9,564.7 518.8,564.7C521.7,564.7 524.6,564.7 527.4,564.7C530.0,564.7 532.5,564.0 535.0,563.7"/>
<path d="M87.2,584.2C93.6,584.2 100.1,584.2 106.6,584.2C109.5,584.2 112.3,583.7 115.2,583.7C117.4,583.7 119.5,584.2 121.7,584.2C123.1,584.2 124.6,582.8 126.0,582.4C127.4,582.1 128.9,581.6 130.3,581.6C131.8,581.6 133.2,582.2 134.6,582.4C136.4,582.7 138.2,583.1 140.0,583.1C141.0,583.1 141.9,583.1 142.8,583.1C143.6,583.1 144.3,575.7 145.0,573.4C145.5,571.8 146.0,570.1 146.5,569.5C146.9,569.1 147.2,568.6 147.6,568.6C148.2,568.6 148.7,573.4 149.3,573.4C149.8,573.4 150.3,572.9 150.8,572.3C151.3,571.7 151.8,566.8 152.3,564.7C152.8,563.0 153.2,560.4 153.6,560.4C154.1,560.4 154.5,561.6 154.9,562.6C155.4,563.6 155.8,568.0 156.2,568.0C156.7,568.0 157.2,566.0 157.7,564.7C158.3,563.3 158.9,559.4 159.5,559.4C160.0,559.4 160.5,561.7 161.0,563.7C161.5,565.9 162.1,574.5 162.7,574.5C163.3,574.5 163.8,573.9 164.4,573.4C165.3,572.6 166.2,568.7 167.0,566.9C167.9,565.1 168.7,562.2 169.6,562.2C170.2,562.2 170.8,562.8 171.3,563.7C172.1,564.7 172.8,571.5 173.5,573.4C174.2,575.2 174.9,577.3 175.6,577.3C176.7,577.3 177.8,575.0 178.9,573.4C179.7,572.1 180.6,568.6 181.5,568.6C182.4,568.6 183.3,569.3 184.3,570.1C185.4,571.1 186.4,577.7 187.5,577.7C188.2,577.7 189.0,575.7 189.7,574.5C190.5,573.0 191.4,569.1 192.3,569.1C192.8,569.1 193.4,570.2 194.0,571.2C195.1,573.1 196.2,580.9 197.2,580.9C198.3,580.9 199.4,576.6 200.5,576.6C201.2,576.6 201.9,576.6 202.6,576.6C203.6,576.6 204.5,578.8 205.4,578.8C206.3,578.8 207.2,577.3 208.0,577.3C208.7,577.3 209.5,577.5 210.2,577.7C211.3,578.0 212.3,580.9 213.4,580.9C214.6,580.9 215.9,578.8 217.1,578.8C218.0,578.8 219.0,579.3 219.9,579.9C221.0,580.4 222.1,583.1 223.1,583.1C224.0,583.1 224.9,578.2 225.7,576.6C226.3,575.6 226.9,574.0 227.4,574.0C228.2,574.0 228.9,575.7 229.6,576.6C230.7,578.1 231.8,581.2 232.8,581.6C233.6,581.8 234.3,582.0 235.0,582.0C235.7,582.0 236.4,580.8 237.2,580.3C237.9,579.8 238.6,578.8 239.3,578.8C240.4,578.8 241.5,580.1 242.6,580.9C243.3,581.5 244.0,583.1 244.7,583.1C245.4,583.1 246.2,581.4 246.9,580.9C247.8,580.3 248.7,579.4 249.7,579.4C250.7,579.4 251.7,581.8 252.7,582.0C253.6,582.3 254.6,582.4 255.5,582.4C256.6,582.4 257.7,580.3 258.7,580.3C259.8,580.3 260.9,580.6 262.0,580.9C263.1,581.2 264.1,582.7 265.2,582.7C266.7,582.7 268.1,580.5 269.5,579.4C271.0,578.3 272.4,576.0 273.8,576.0C274.7,576.0 275.6,577.7 276.4,578.8C277.4,580.0 278.3,583.1 279.2,583.1C280.0,583.1 280.7,581.1 281.4,579.9C282.3,578.3 283.3,574.5 284.2,574.5C285.1,574.5 285.9,574.5 286.8,574.5C287.5,574.5 288.2,579.4 289.0,579.4C289.5,579.4 290.1,577.6 290.7,576.6C291.4,575.3 292.1,572.3 292.8,572.3C293.7,572.3 294.6,574.9 295.4,576.6C296.2,578.0 296.9,581.6 297.6,581.6C298.3,581.6 299.0,579.9 299.7,578.8C300.6,577.4 301.5,573.4 302.3,573.4C302.9,573.4 303.5,573.9 304.1,574.5C304.8,575.2 305.5,580.5 306.2,580.9C307.3,581.6 308.4,582.0 309.5,582.0C310.5,582.0 311.6,582.0 312.7,582.0C313.6,582.0 314.4,583.1 315.3,583.1C316.2,583.1 317.2,580.6 318.1,579.9C319.0,579.1 320.0,578.1 320.9,578.1C321.8,578.1 322.6,580.9 323.5,580.9C324.2,580.9 324.9,580.4 325.6,579.9C326.5,579.2 327.4,576.0 328.2,576.0C329.2,576.0 330.1,576.7 331.0,577.3C332.1,577.9 333.2,579.9 334.3,579.9C335.4,579.9 336.4,579.5 337.5,578.8C338.2,578.3 339.0,573.8 339.7,572.9C340.4,572.1 341.1,571.2 341.8,571.2C342.6,571.2 343.3,571.7 344.0,571.7C344.7,571.7 345.4,569.5 346.2,569.5C346.9,569.5 347.6,572.3 348.3,572.3C349.4,572.3 350.5,571.7 351.5,571.7C352.3,571.7 353.0,572.4 353.7,572.9C354.6,573.7 355.4,575.1 356.3,576.6C357.0,577.9 357.7,580.7 358.5,581.6C359.0,582.3 359.6,583.1 360.2,583.1C361.6,583.1 363.1,583.1 364.5,583.1C365.4,583.1 366.2,578.8 367.1,576.6C367.8,574.8 368.5,571.2 369.2,571.2C370.0,571.2 370.7,572.2 371.4,573.4C372.0,574.3 372.6,579.1 373.1,579.9C373.8,580.8 374.6,581.6 375.3,581.6C376.4,581.6 377.4,580.9 378.5,580.9C379.6,580.9 380.7,580.9 381.8,580.9C382.8,580.9 383.9,580.6 385.0,580.3C386.4,579.9 387.9,578.3 389.3,577.3C390.8,576.2 392.2,573.8 393.6,573.8C394.7,573.8 395.8,578.8 396.9,578.8C397.9,578.8 399.0,575.5 400.1,575.5C400.8,575.5 401.5,576.9 402.3,577.7C403.3,578.9 404.4,582.0 405.5,582.0C406.9,582.0 408.4,580.4 409.8,579.4C411.3,578.4 412.7,576.0 414.1,576.0C415.2,576.0 416.3,577.4 417.4,578.1C418.2,578.7 419.1,579.9 420.0,579.9C421.1,579.9 422.3,576.0 423.4,576.0C424.1,576.0 424.9,577.3 425.6,577.3C426.4,577.3 427.3,574.5 428.2,574.5C429.0,574.5 429.9,574.7 430.8,575.1C431.7,575.5 432.6,582.1 433.6,582.4C434.6,582.9 435.7,583.1 436.8,583.1C439.0,583.1 441.1,582.9 443.3,582.4C444.9,582.1 446.4,577.3 448.0,577.3C449.0,577.3 449.9,580.6 450.8,580.9C452.1,581.3 453.3,581.6 454.5,581.6C455.1,581.6 455.6,578.1 456.2,578.1C457.3,578.1 458.4,582.1 459.5,582.4C460.5,582.8 461.6,582.8 462.7,583.1C463.8,583.4 464.9,584.2 465.9,584.2C467.0,584.2 468.1,579.9 469.2,579.9C470.6,579.9 472.1,580.4 473.5,580.9C474.6,581.3 475.6,583.1 476.7,583.1C477.8,583.1 478.9,582.8 480.0,582.4C481.0,582.1 482.1,579.3 483.2,577.7C483.9,576.6 484.6,574.5 485.4,574.5C486.4,574.5 487.5,574.5 488.6,574.5C489.7,574.5 490.8,574.7 491.8,575.1C492.9,575.5 494.0,580.5 495.1,580.9C496.2,581.3 497.2,581.3 498.3,581.6C499.4,581.8 500.5,582.4 501.5,582.4C502.6,582.4 503.7,580.6 504.8,580.3C505.5,580.1 506.2,579.9 506.9,579.9C508.0,579.9 509.1,583.7 510.2,583.7C511.3,583.7 512.3,582.6 513.4,581.6C514.6,580.5 515.9,576.0 517.1,576.0C518.0,576.0 519.0,576.7 519.9,577.3C521.0,578.0 522.1,580.9 523.1,580.9C524.2,580.9 525.3,578.1 526.4,578.1C527.4,578.1 528.5,579.0 529.6,579.4C530.7,579.9 531.8,580.3 532.8,580.9C533.6,581.3 534.3,581.9 535.0,582.4"/>
<path d="M87.2,601.9C93.6,601.7 100.1,601.4 106.6,601.4C110.2,601.4 113.8,601.9 117.4,601.9C119.5,601.9 121.7,601.4 123.8,601.4C125.6,601.4 127.4,601.9 129.2,601.9C130.3,601.9 131.4,600.7 132.5,600.4C133.9,599.9 135.4,599.5 136.8,599.3C138.2,599.1 139.7,598.8 141.1,598.8C142.0,598.8 142.8,600.4 143.7,600.4C144.3,600.4 144.9,597.2 145.4,595.0C146.2,592.1 146.9,584.2 147.6,583.1C148.2,582.2 148.7,581.6 149.3,581.6C149.8,581.6 150.3,584.8 150.8,585.3C151.5,585.9 152.3,586.3 153.0,586.3C153.7,586.3 154.4,582.3 155.1,581.6C156.2,580.4 157.3,580.1 158.4,579.4C159.2,578.8 160.1,577.7 161.0,577.7C161.7,577.7 162.4,583.7 163.1,585.3C163.8,586.8 164.6,588.5 165.3,588.5C165.9,588.5 166.4,587.0 167.0,586.3C168.1,585.1 169.2,584.0 170.3,583.1C171.0,582.5 171.7,581.6 172.4,581.6C173.1,581.6 173.8,586.5 174.6,588.5C175.5,591.0 176.4,595.0 177.4,595.0C178.2,595.0 179.1,592.5 180.0,591.7C180.7,591.1 181.4,590.2 182.1,590.2C183.2,590.2 184.3,590.9 185.4,591.7C186.1,592.3 186.8,593.9 187.5,595.0C188.6,596.6 189.7,599.7 190.8,599.7C191.5,599.7 192.2,598.9 192.9,598.2C193.8,597.4 194.6,593.9 195.5,593.9C196.4,593.9 197.4,598.2 198.3,598.2C199.4,598.2 200.5,597.7 201.5,597.1C202.3,596.8 203.0,595.0 203.7,595.0C204.4,595.0 205.1,597.1 205.9,597.1C206.6,597.1 207.3,595.2 208.0,595.0C208.7,594.7 209.5,594.5 210.2,594.5C211.3,594.5 212.3,596.6 213.4,597.1C214.5,597.6 215.6,598.2 216.7,598.2C217.4,598.2 218.1,596.0 218.8,596.0C220.3,596.0 221.7,598.2 223.1,598.2C224.6,598.2 226.0,598.2 227.4,598.2C230.0,598.2 232.5,599.0 235.0,599.3C236.4,599.4 237.9,599.7 239.3,599.7C240.8,599.7 242.2,598.1 243.6,597.6C244.7,597.1 245.8,596.5 246.9,596.5C247.9,596.5 249.0,597.1 250.1,597.1C251.2,597.1 252.3,595.8 253.3,595.0C254.2,594.3 255.1,592.4 255.9,592.4C256.9,592.4 257.8,594.0 258.7,594.5C259.8,595.2 260.9,596.0 262.0,596.0C263.1,596.0 264.1,595.0 265.2,595.0C266.3,595.0 267.4,597.1 268.5,597.6C269.2,597.9 269.9,598.2 270.6,598.2C271.7,598.2 272.8,595.0 273.8,595.0C274.9,595.0 276.0,597.7 277.1,598.2C278.2,598.7 279.2,599.3 280.3,599.3C281.4,599.3 282.5,595.4 283.6,595.4C284.6,595.4 285.7,597.5 286.8,598.2C287.9,598.9 289.0,599.7 290.0,599.7C291.1,599.7 292.2,598.8 293.3,598.2C294.7,597.4 296.2,595.0 297.6,595.0C299.0,595.0 300.5,595.0 301.9,595.0C303.0,595.0 304.1,599.3 305.1,599.3C306.2,599.3 307.3,598.6 308.4,598.2C309.5,597.8 310.5,596.5 311.6,596.5C312.7,596.5 313.8,597.1 314.9,597.1C315.9,597.1 317.0,595.4 318.1,595.4C319.2,595.4 320.3,598.2 321.3,598.2C322.8,598.2 324.2,596.7 325.6,596.0C326.7,595.5 327.8,594.5 328.9,594.5C330.0,594.5 331.0,595.4 332.1,596.0C333.2,596.7 334.3,598.4 335.4,598.8C336.3,599.3 337.2,599.7 338.2,599.7C339.0,599.7 339.9,597.2 340.8,596.0C341.5,595.1 342.2,593.2 342.9,593.2C343.6,593.2 344.4,594.2 345.1,595.0C345.8,595.8 346.5,598.8 347.2,598.8C348.3,598.8 349.4,597.0 350.5,596.7C351.5,596.4 352.6,596.0 353.7,596.0C354.4,596.0 355.1,597.6 355.9,597.6C356.9,597.6 358.0,595.0 359.1,595.0C359.8,595.0 360.5,598.2 361.3,598.2C362.2,598.2 363.1,597.0 364.1,596.0C365.1,595.0 366.1,591.7 367.1,591.7C368.0,591.7 369.0,592.6 369.9,593.2C371.0,594.0 372.1,596.0 373.1,596.0C374.2,596.0 375.3,592.8 376.4,592.8C377.4,592.8 378.5,593.0 379.6,593.2C380.7,593.5 381.8,596.8 382.8,597.1C383.6,597.4 384.3,597.6 385.0,597.6C385.7,597.6 386.4,593.2 387.2,593.2C387.9,593.2 388.6,595.6 389.3,596.0C390.8,596.9 392.2,597.6 393.6,597.6C395.1,597.6 396.5,597.4 397.9,597.1C399.4,596.9 400.8,595.4 402.3,595.0C403.7,594.5 405.1,593.9 406.6,593.9C407.7,593.9 408.7,594.4 409.8,595.0C410.9,595.5 412.0,598.6 413.1,598.8C414.5,599.1 415.9,599.3 417.4,599.3C418.5,599.3 419.5,598.2 420.6,598.2C421.7,598.2 422.8,600.4 423.8,600.4C425.3,600.4 426.7,599.6 428.2,599.3C429.6,598.9 431.0,598.2 432.5,598.2C433.9,598.2 435.4,599.7 436.8,599.7C438.2,599.7 439.7,597.4 441.1,597.1C442.6,596.9 444.0,596.7 445.4,596.7C446.9,596.7 448.3,597.6 449.7,598.2C451.2,598.8 452.6,600.4 454.1,600.4C455.5,600.4 456.9,598.8 458.4,598.2C459.5,597.8 460.5,597.1 461.6,597.1C462.7,597.1 463.8,598.8 464.9,598.8C465.9,598.8 467.0,597.7 468.1,597.6C469.5,597.3 471.0,597.1 472.4,597.1C473.5,597.1 474.6,598.7 475.6,599.3C476.4,599.7 477.1,600.4 477.8,600.4C478.9,600.4 480.0,598.1 481.0,597.1C482.1,596.2 483.2,594.5 484.3,594.5C485.0,594.5 485.7,597.6 486.4,598.2C487.2,598.8 487.9,599.3 488.6,599.3C489.3,599.3 490.0,595.4 490.8,595.4C491.8,595.4 492.9,597.1 494.0,597.1C495.1,597.1 496.2,596.4 497.2,596.0C498.3,595.7 499.4,595.4 500.5,595.0C501.5,594.5 502.6,592.8 503.7,592.8C504.4,592.8 505.1,595.5 505.9,596.0C506.6,596.6 507.3,597.1 508.0,597.1C508.7,597.1 509.5,595.0 510.2,595.0C511.3,595.0 512.3,596.7 513.4,596.7C514.5,596.7 515.6,596.0 516.7,596.0C518.1,596.0 519.5,598.8 521.0,598.8C522.4,598.8 523.8,598.1 525.3,597.6C526.7,597.0 528.2,595.0 529.6,595.0C530.7,595.0 531.8,596.2 532.8,597.1C533.6,597.7 534.3,598.6 535.0,599.3"/>
<path d="M87.2,637.0C94.4,637.0 101.5,637.0 108.7,637.0C110.2,637.0 111.6,636.3 113.1,636.3C115.2,636.3 117.4,637.0 119.5,637.0C121.0,637.0 122.4,635.9 123.8,635.9C125.3,635.9 126.7,637.0 128.2,637.0C129.6,637.0 131.0,636.6 132.5,636.3C134.3,636.0 136.1,635.5 137.9,634.8C139.7,634.2 141.5,632.2 143.3,632.2C144.4,632.2 145.4,633.3 146.5,633.3C147.2,633.3 147.9,632.6 148.7,631.6C149.4,630.6 150.1,622.5 150.8,620.8C151.5,619.1 152.3,617.6 153.0,617.6C153.7,617.6 154.4,620.4 155.1,620.4C156.1,620.4 157.0,618.7 157.9,617.6C158.8,616.5 159.7,614.8 160.5,613.9C161.3,613.2 162.0,612.2 162.7,612.2C163.3,612.2 163.8,613.6 164.4,614.7C165.1,616.1 165.9,620.2 166.6,620.8C167.3,621.4 168.0,621.9 168.7,621.9C169.5,621.9 170.2,618.6 170.9,618.6C171.6,618.6 172.3,622.0 173.1,622.9C173.8,623.9 174.5,625.1 175.2,625.1C175.9,625.1 176.7,621.9 177.4,621.9C177.9,621.9 178.4,624.8 178.9,626.2C179.6,628.1 180.3,631.6 181.0,631.6C182.0,631.6 182.9,631.0 183.8,630.5C184.7,630.0 185.6,628.2 186.4,627.7C187.2,627.3 187.9,626.8 188.6,626.8C189.7,626.8 190.8,628.7 191.8,629.9C192.9,631.0 194.0,634.2 195.1,634.2C195.8,634.2 196.5,632.4 197.2,631.6C197.9,630.8 198.7,629.4 199.4,629.4C200.3,629.4 201.1,630.6 202.0,631.6C202.7,632.4 203.4,635.3 204.1,635.5C205.1,635.7 206.0,635.9 206.9,635.9C208.0,635.9 209.1,633.5 210.2,632.7C211.3,631.8 212.3,630.5 213.4,630.5C214.5,630.5 215.6,631.8 216.7,632.7C217.7,633.5 218.8,635.5 219.9,635.5C221.0,635.5 222.1,634.8 223.1,634.2C224.6,633.3 226.0,629.4 227.4,629.4C228.3,629.4 229.2,631.3 230.0,631.6C231.0,631.9 231.9,632.2 232.8,632.2C233.6,632.2 234.3,631.2 235.0,631.2C235.7,631.2 236.4,633.0 237.2,633.7C237.9,634.5 238.6,635.9 239.3,635.9C240.0,635.9 240.8,632.8 241.5,631.6C242.3,630.1 243.2,627.7 244.1,627.7C245.0,627.7 245.9,629.6 246.9,630.5C247.8,631.4 248.7,633.3 249.7,633.3C250.7,633.3 251.7,631.2 252.7,631.2C253.6,631.2 254.6,632.4 255.5,633.3C256.2,634.0 256.9,635.9 257.7,635.9C258.7,635.9 259.8,634.2 260.9,634.2C262.0,634.2 263.1,635.1 264.1,635.5C265.2,635.8 266.3,636.3 267.4,636.3C268.8,636.3 270.3,635.4 271.7,634.8C273.1,634.2 274.6,632.7 276.0,632.7C277.1,632.7 278.2,634.2 279.2,634.2C280.3,634.2 281.4,632.2 282.5,632.2C283.3,632.2 284.2,633.3 285.1,634.2C285.8,634.9 286.5,637.0 287.2,637.0C288.5,637.0 289.8,635.1 291.1,634.8C292.9,634.5 294.7,634.2 296.5,634.2C297.9,634.2 299.4,637.0 300.8,637.0C302.3,637.0 303.7,636.3 305.1,636.3C306.6,636.3 308.0,637.0 309.5,637.0C310.9,637.0 312.3,634.8 313.8,634.8C315.2,634.8 316.7,635.5 318.1,635.5C319.2,635.5 320.3,634.2 321.3,634.2C322.4,634.2 323.5,635.5 324.6,635.5C326.4,635.5 328.2,635.0 330.0,634.8C332.1,634.6 334.3,634.2 336.4,634.2C337.9,634.2 339.3,634.8 340.8,634.8C341.5,634.8 342.2,631.1 342.9,629.4C343.6,627.7 344.4,624.7 345.1,624.7C345.8,624.7 346.5,626.2 347.2,627.3C347.8,628.1 348.4,630.5 349.0,630.5C349.8,630.5 350.7,624.8 351.5,622.9C352.4,621.1 353.3,618.6 354.1,618.6C354.9,618.6 355.6,620.3 356.3,621.9C356.9,623.1 357.4,628.3 358.0,628.3C358.7,628.3 359.5,626.9 360.2,626.2C361.3,625.2 362.3,623.4 363.4,623.4C364.1,623.4 364.9,623.7 365.6,624.0C366.3,624.4 367.0,626.9 367.7,628.3C368.5,629.8 369.2,632.7 369.9,632.7C371.0,632.7 372.1,631.1 373.1,630.5C373.8,630.1 374.6,629.4 375.3,629.4C376.0,629.4 376.7,630.8 377.4,631.6C378.2,632.4 378.9,634.2 379.6,634.2C380.7,634.2 381.8,632.4 382.8,632.2C383.6,632.1 384.3,632.0 385.0,632.0C386.1,632.0 387.2,635.5 388.2,635.5C389.5,635.5 390.7,632.0 391.9,632.0C392.8,632.0 393.8,633.7 394.7,634.2C395.8,634.7 396.9,635.5 397.9,635.5C398.8,635.5 399.7,634.2 400.5,634.2C401.5,634.2 402.4,636.3 403.3,636.3C404.4,636.3 405.5,632.7 406.6,632.7C407.7,632.7 408.7,633.2 409.8,633.3C411.3,633.5 412.7,633.5 414.1,633.7C415.2,633.9 416.3,637.0 417.4,637.0C418.8,637.0 420.3,635.5 421.7,635.5C423.5,635.5 425.3,636.3 427.1,636.3C428.9,636.3 430.7,635.5 432.5,635.5C434.3,635.5 436.1,637.0 437.9,637.0C439.7,637.0 441.5,635.9 443.3,635.9C445.4,635.9 447.6,636.1 449.7,636.3C451.5,636.5 453.3,637.0 455.1,637.0C456.2,637.0 457.3,635.3 458.4,634.2C459.1,633.4 459.8,631.9 460.5,631.2C461.3,630.4 462.0,629.4 462.7,629.4C463.6,629.4 464.4,632.7 465.3,632.7C466.2,632.7 467.2,631.3 468.1,630.5C468.8,629.9 469.5,628.3 470.3,628.3C471.0,628.3 471.7,630.0 472.4,631.2C473.1,632.3 473.8,635.3 474.6,635.3C475.5,635.3 476.4,634.0 477.4,633.7C478.2,633.5 479.1,633.3 480.0,633.3C481.0,633.3 482.1,634.8 483.2,634.8C483.9,634.8 484.6,632.7 485.4,632.0C486.1,631.4 486.8,630.5 487.5,630.5C488.2,630.5 489.0,631.8 489.7,632.7C490.4,633.5 491.1,635.9 491.8,635.9C492.9,635.9 494.0,634.8 495.1,634.8C496.5,634.8 497.9,637.0 499.4,637.0C501.5,637.0 503.7,637.0 505.9,637.0C506.9,637.0 508.0,634.6 509.1,633.7C510.2,632.9 511.3,631.6 512.3,631.6C513.4,631.6 514.5,632.8 515.6,633.7C516.1,634.2 516.6,635.5 517.1,635.5C518.2,635.5 519.4,631.6 520.5,631.6C521.4,631.6 522.3,632.0 523.1,632.2C524.2,632.5 525.3,633.1 526.4,633.3C527.4,633.5 528.5,633.7 529.6,633.7C531.4,633.7 533.2,633.5 535.0,633.3"/>
<path d="M85.0,654.9C96.5,654.9 108.0,654.9 119.5,654.9C122.4,654.9 125.3,654.6 128.2,654.5C131.0,654.3 133.9,654.1 136.8,653.8C139.0,653.6 141.1,653.1 143.3,652.7C144.9,652.5 146.4,652.5 148.0,652.1C149.0,651.8 149.9,648.3 150.8,646.7C151.8,645.1 152.7,642.4 153.6,642.4C154.5,642.4 155.4,645.6 156.2,645.6C157.3,645.6 158.4,643.9 159.5,642.4C160.4,641.1 161.3,635.9 162.3,635.9C162.8,635.9 163.3,636.4 163.8,637.0C164.5,637.8 165.2,643.9 165.9,644.5C166.7,645.2 167.4,645.6 168.1,645.6C169.0,645.6 170.0,644.1 170.9,644.1C171.8,644.1 172.6,645.7 173.5,646.3C174.6,646.9 175.6,647.1 176.7,647.8C177.8,648.5 178.9,651.0 180.0,651.0C180.7,651.0 181.4,650.3 182.1,649.9C183.0,649.5 183.8,648.4 184.7,648.4C185.6,648.4 186.6,650.3 187.5,651.0C188.6,651.8 189.7,653.2 190.8,653.2C192.2,653.2 193.6,652.9 195.1,652.7C197.2,652.5 199.4,652.1 201.5,652.1C202.6,652.1 203.7,652.7 204.8,652.7C205.9,652.7 206.9,651.4 208.0,651.4C210.2,651.4 212.3,654.2 214.5,654.2C215.9,654.2 217.4,653.2 218.8,653.2C221.0,653.2 223.1,653.8 225.3,653.8C227.4,653.8 229.6,653.4 231.8,653.2C232.8,653.0 233.9,652.7 235.0,652.7C236.4,652.7 237.9,652.7 239.3,652.7C240.4,652.7 241.5,653.0 242.6,653.2C243.6,653.4 244.7,654.2 245.8,654.2C247.2,654.2 248.7,652.7 250.1,652.5C251.5,652.3 253.0,652.1 254.4,652.1C255.5,652.1 256.6,652.7 257.7,652.7C259.1,652.7 260.5,650.9 262.0,649.9C263.4,648.9 264.9,646.7 266.3,646.7C267.4,646.7 268.5,648.8 269.5,648.8C270.3,648.8 271.0,646.8 271.7,645.6C272.4,644.4 273.1,641.3 273.8,641.3C274.6,641.3 275.3,641.8 276.0,642.4C276.7,642.9 277.4,645.6 278.2,645.6C279.0,645.6 279.9,643.5 280.8,643.5C281.7,643.5 282.6,645.2 283.6,645.6C285.4,646.4 287.2,646.6 289.0,647.1C290.4,647.5 291.8,648.2 293.3,648.4C294.7,648.6 296.2,648.6 297.6,648.8C298.7,649.0 299.7,651.0 300.8,651.0C301.9,651.0 303.0,649.3 304.1,648.8C305.1,648.4 306.2,647.8 307.3,647.8C308.4,647.8 309.5,649.1 310.5,649.9C311.3,650.5 312.0,652.1 312.7,652.1C313.8,652.1 314.9,648.4 315.9,648.4C317.0,648.4 318.1,649.3 319.2,649.9C320.3,650.5 321.3,651.6 322.4,652.1C323.3,652.5 324.3,653.2 325.2,653.2C326.1,653.2 326.9,652.1 327.8,652.1C329.2,652.1 330.7,652.7 332.1,652.7C333.9,652.7 335.7,649.9 337.5,649.9C338.6,649.9 339.7,649.9 340.8,649.9C341.8,649.9 342.9,650.6 344.0,651.0C345.1,651.4 346.2,652.1 347.2,652.1C348.7,652.1 350.1,650.2 351.5,649.9C353.0,649.7 354.4,649.5 355.9,649.5C357.3,649.5 358.7,649.7 360.2,649.9C361.6,650.1 363.1,651.0 364.5,651.0C365.9,651.0 367.4,648.4 368.8,648.4C369.9,648.4 371.0,650.4 372.1,651.0C372.8,651.4 373.5,652.1 374.2,652.1C375.3,652.1 376.4,649.3 377.4,649.3C378.9,649.3 380.3,650.7 381.8,651.0C382.8,651.2 383.9,651.2 385.0,651.4C386.4,651.7 387.9,652.7 389.3,652.7C390.4,652.7 391.5,651.0 392.6,651.0C393.6,651.0 394.7,653.2 395.8,653.2C396.9,653.2 397.9,651.5 399.0,651.0C400.1,650.5 401.2,649.9 402.3,649.9C403.0,649.9 403.7,651.0 404.4,651.0C405.1,651.0 405.9,649.9 406.6,649.9C407.7,649.9 408.7,652.1 409.8,652.1C410.5,652.1 411.3,651.4 412.0,651.0C413.1,650.5 414.1,649.3 415.2,649.3C416.3,649.3 417.4,650.4 418.5,651.0C419.5,651.6 420.6,653.2 421.7,653.2C423.1,653.2 424.6,652.1 426.0,652.1C427.4,652.1 428.9,652.7 430.3,652.7C432.5,652.7 434.6,652.4 436.8,652.1C438.2,651.9 439.7,651.0 441.1,651.0C443.3,651.0 445.4,652.7 447.6,652.7C449.7,652.7 451.9,652.1 454.1,652.1C456.2,652.1 458.4,653.2 460.5,653.2C462.7,653.2 464.9,652.6 467.0,652.1C469.2,651.6 471.3,649.9 473.5,649.9C474.9,649.9 476.4,651.5 477.8,651.7C480.0,651.9 482.1,651.9 484.3,652.1C486.4,652.3 488.6,652.7 490.8,652.7C492.2,652.7 493.6,651.7 495.1,651.7C496.5,651.7 497.9,652.7 499.4,652.7C500.8,652.7 502.3,651.0 503.7,651.0C504.4,651.0 505.1,653.2 505.9,653.2C506.9,653.2 508.0,652.4 509.1,652.1C510.2,651.7 511.3,651.0 512.3,651.0C513.4,651.0 514.5,653.2 515.6,653.2C516.3,653.2 517.0,652.1 517.7,652.1C518.7,652.1 519.6,653.6 520.5,653.6C521.4,653.6 522.3,651.0 523.1,651.0C524.6,651.0 526.0,652.1 527.4,652.1C530.0,652.1 532.5,651.7 535.0,651.4"/>
<path d="M87.2,672.6C95.1,672.6 103.0,672.6 110.9,672.6C113.8,672.6 116.7,672.6 119.5,672.6C121.7,672.6 123.8,672.1 126.0,671.9C128.2,671.8 130.3,671.7 132.5,671.5C135.4,671.3 138.2,671.2 141.1,670.9C142.9,670.7 144.7,670.5 146.5,670.0C147.4,669.7 148.4,668.7 149.3,667.2C150.0,666.0 150.8,659.7 151.5,658.6C152.2,657.4 152.9,656.4 153.6,656.4C154.4,656.4 155.1,660.1 155.8,660.1C156.7,660.1 157.5,659.4 158.4,658.6C159.1,657.8 159.8,652.5 160.5,651.0C161.1,649.8 161.7,648.4 162.3,648.4C162.8,648.4 163.3,650.7 163.8,652.1C164.5,654.1 165.2,659.6 165.9,659.6C166.7,659.6 167.4,659.4 168.1,659.2C168.7,659.0 169.2,657.9 169.8,657.9C170.7,657.9 171.5,660.9 172.4,661.8C173.3,662.8 174.3,664.0 175.2,664.0C175.9,664.0 176.7,662.2 177.4,662.2C178.2,662.2 179.1,665.4 180.0,666.1C181.0,667.0 182.1,667.8 183.2,667.8C184.3,667.8 185.4,667.2 186.4,667.2C187.9,667.2 189.3,667.9 190.8,668.3C192.9,668.8 195.1,670.0 197.2,670.0C199.0,670.0 200.8,667.8 202.6,667.8C203.7,667.8 204.8,669.9 205.9,670.0C208.0,670.3 210.2,670.4 212.3,670.4C214.5,670.4 216.7,669.4 218.8,669.4C221.0,669.4 223.1,670.0 225.3,670.0C228.5,670.0 231.8,668.7 235.0,668.3C236.4,668.1 237.9,667.8 239.3,667.8C240.8,667.8 242.2,668.7 243.6,668.7C244.7,668.7 245.8,667.0 246.9,666.5C247.9,666.1 249.0,665.9 250.1,665.7C251.2,665.4 252.3,665.3 253.3,665.0C254.4,664.7 255.5,664.1 256.6,663.5C257.4,663.0 258.3,662.2 259.2,661.8C260.1,661.3 261.0,660.7 262.0,660.7C263.1,660.7 264.1,662.9 265.2,662.9C265.9,662.9 266.7,662.5 267.4,662.2C268.5,661.8 269.5,660.7 270.6,660.7C271.5,660.7 272.5,662.6 273.4,663.5C274.3,664.4 275.1,665.8 276.0,666.1C278.2,666.8 280.3,667.0 282.5,667.2C285.4,667.5 288.2,667.8 291.1,667.8C294.0,667.8 296.9,667.8 299.7,667.8C302.6,667.8 305.5,668.7 308.4,668.7C311.3,668.7 314.1,668.3 317.0,668.3C319.9,668.3 322.8,668.7 325.6,668.7C327.1,668.7 328.5,668.5 330.0,668.3C331.0,668.1 332.1,667.6 333.2,667.6C335.0,667.6 336.8,668.7 338.6,668.7C340.8,668.7 342.9,668.5 345.1,668.3C347.9,668.0 350.8,667.2 353.7,667.2C356.6,667.2 359.5,667.8 362.3,667.8C363.8,667.8 365.2,666.5 366.7,666.5C368.1,666.5 369.5,667.8 371.0,667.8C373.1,667.8 375.3,667.2 377.4,667.2C380.0,667.2 382.5,667.8 385.0,667.8C387.2,667.8 389.3,667.2 391.5,667.2C393.6,667.2 395.8,668.7 397.9,668.7C400.1,668.7 402.3,667.8 404.4,667.8C406.6,667.8 408.7,668.3 410.9,668.3C413.1,668.3 415.2,667.8 417.4,667.8C421.0,667.8 424.6,668.3 428.2,668.3C431.0,668.3 433.9,667.8 436.8,667.8C439.0,667.8 441.1,668.7 443.3,668.7C445.4,668.7 447.6,668.4 449.7,668.3C452.6,668.1 455.5,667.8 458.4,667.8C460.5,667.8 462.7,668.5 464.9,668.7C467.7,669.0 470.6,669.1 473.5,669.4C475.6,669.5 477.8,670.0 480.0,670.0C482.1,670.0 484.3,669.4 486.4,669.4C488.6,669.4 490.8,669.4 492.9,669.4C495.8,669.4 498.7,668.7 501.5,668.7C504.4,668.7 507.3,669.4 510.2,669.4C513.1,669.4 515.9,668.7 518.8,668.7C521.7,668.7 524.6,669.4 527.4,669.4C530.0,669.4 532.5,668.9 535.0,668.7"/>
<path d="M87.2,689.9C97.2,689.9 107.3,689.9 117.4,689.9C121.0,689.9 124.6,689.5 128.2,689.2C131.0,689.0 133.9,688.6 136.8,688.1C139.0,687.8 141.1,687.2 143.3,686.6C145.1,686.2 146.9,686.1 148.7,685.1C149.4,684.7 150.1,682.7 150.8,681.2C151.5,679.7 152.3,675.8 153.0,675.8C153.7,675.8 154.4,677.3 155.1,677.3C156.8,677.3 158.5,674.6 160.1,672.8C160.8,672.1 161.4,671.4 162.1,670.2C162.7,669.0 163.3,664.8 164.0,664.8C164.7,664.8 165.4,668.0 166.2,670.2C166.8,672.2 167.4,677.9 168.1,678.2C169.4,678.8 170.7,679.1 172.0,679.1C172.5,679.1 173.0,678.0 173.5,678.0C174.6,678.0 175.6,679.1 176.7,679.1C177.4,679.1 178.2,677.3 178.9,677.3C179.6,677.3 180.3,680.1 181.0,681.2C182.0,682.7 182.9,685.1 183.8,685.1C184.7,685.1 185.6,683.0 186.4,682.3C187.2,681.7 187.9,680.8 188.6,680.8C189.3,680.8 190.0,683.6 190.8,684.5C191.8,685.7 192.9,687.3 194.0,687.3C195.1,687.3 196.2,687.3 197.2,687.3C198.7,687.3 200.1,688.1 201.5,688.1C203.0,688.1 204.4,687.3 205.9,687.3C206.9,687.3 208.0,687.9 209.1,688.1C210.9,688.6 212.7,689.4 214.5,689.4C215.9,689.4 217.4,688.1 218.8,688.1C221.0,688.1 223.1,689.9 225.3,689.9C228.5,689.9 231.8,688.1 235.0,688.1C236.4,688.1 237.9,688.8 239.3,688.8C241.1,688.8 242.9,688.4 244.7,688.1C246.5,687.9 248.3,687.3 250.1,687.3C251.2,687.3 252.3,687.8 253.3,688.1C254.4,688.5 255.5,689.4 256.6,689.4C258.0,689.4 259.5,689.0 260.9,688.8C262.3,688.6 263.8,688.3 265.2,688.1C266.7,688.0 268.1,688.0 269.5,687.7C270.6,687.5 271.7,685.1 272.8,685.1C273.8,685.1 274.9,686.2 276.0,686.6C277.4,687.2 278.9,687.9 280.3,688.1C282.5,688.5 284.6,688.6 286.8,688.8C289.7,689.0 292.6,689.2 295.4,689.4C297.6,689.6 299.7,689.9 301.9,689.9C304.8,689.9 307.7,689.1 310.5,688.8C313.4,688.4 316.3,688.3 319.2,687.7C320.3,687.5 321.3,686.6 322.4,686.6C323.5,686.6 324.6,688.6 325.6,688.8C327.8,689.2 330.0,689.3 332.1,689.4C334.3,689.6 336.4,689.9 338.6,689.9C340.0,689.9 341.5,689.7 342.9,689.4C344.0,689.2 345.1,686.0 346.2,686.0C347.2,686.0 348.3,686.0 349.4,686.0C350.5,686.0 351.5,685.1 352.6,684.5C353.8,683.8 355.1,681.9 356.3,681.9C357.2,681.9 358.2,683.7 359.1,684.5C359.8,685.0 360.5,686.0 361.3,686.0C362.3,686.0 363.4,682.3 364.5,682.3C365.4,682.3 366.2,682.6 367.1,682.9C368.0,683.3 369.0,685.5 369.9,685.5C371.0,685.5 372.1,683.8 373.1,683.8C374.0,683.8 374.9,684.9 375.7,685.5C376.7,686.2 377.6,687.7 378.5,687.7C379.6,687.7 380.7,685.5 381.8,685.5C382.8,685.5 383.9,685.5 385.0,685.5C386.4,685.5 387.9,684.5 389.3,684.5C390.4,684.5 391.5,686.6 392.6,686.6C394.0,686.6 395.4,685.5 396.9,685.5C398.3,685.5 399.7,686.6 401.2,686.6C402.6,686.6 404.1,686.3 405.5,686.0C406.9,685.7 408.4,684.7 409.8,684.7C410.9,684.7 412.0,686.6 413.1,686.6C414.5,686.6 415.9,686.0 417.4,686.0C419.5,686.0 421.7,687.1 423.8,687.3C426.0,687.5 428.2,687.6 430.3,687.7C432.5,687.8 434.6,687.9 436.8,688.1C438.2,688.3 439.7,689.9 441.1,689.9C443.3,689.9 445.4,688.8 447.6,688.8C449.7,688.8 451.9,689.4 454.1,689.4C456.2,689.4 458.4,688.8 460.5,688.8C462.7,688.8 464.9,689.4 467.0,689.4C469.2,689.4 471.3,688.5 473.5,688.1C475.6,687.8 477.8,687.3 480.0,687.3C482.1,687.3 484.3,688.1 486.4,688.1C488.6,688.1 490.8,688.1 492.9,688.1C495.1,688.1 497.2,687.7 499.4,687.7C501.5,687.7 503.7,688.1 505.9,688.1C507.7,688.1 509.5,686.0 511.3,686.0C512.3,686.0 513.4,687.3 514.5,687.3C515.9,687.3 517.4,686.6 518.8,686.6C520.3,686.6 521.7,688.8 523.1,688.8C524.6,688.8 526.0,688.8 527.4,688.8C530.0,688.8 532.5,689.2 535.0,689.4"/>
<path d="M87.2,707.8C95.8,707.8 104.4,707.8 113.1,707.8C115.2,707.8 117.4,707.3 119.5,707.1C122.4,706.8 125.3,706.6 128.2,706.3C131.0,705.9 133.9,705.0 136.8,705.0C139.0,705.0 141.1,705.0 143.3,705.0C145.1,705.0 146.9,704.5 148.7,703.9C149.7,703.5 150.8,701.7 151.9,700.2C152.6,699.2 153.3,696.8 154.1,696.3C155.1,695.7 156.2,695.3 157.3,695.3C158.2,695.3 159.2,696.3 160.1,696.3C161.0,696.3 161.8,695.8 162.7,695.3C163.8,694.5 164.9,689.4 165.9,689.4C166.7,689.4 167.4,691.0 168.1,692.0C169.2,693.6 170.3,697.7 171.3,698.5C172.8,699.5 174.2,700.2 175.6,700.2C176.7,700.2 177.8,698.1 178.9,698.1C179.8,698.1 180.8,700.5 181.7,701.7C182.6,702.8 183.4,705.0 184.3,705.0C185.4,705.0 186.4,704.1 187.5,703.9C188.6,703.7 189.7,703.5 190.8,703.5C191.8,703.5 192.9,704.7 194.0,705.0C195.8,705.5 197.6,705.8 199.4,706.0C201.5,706.3 203.7,706.7 205.9,706.7C208.7,706.7 211.6,706.7 214.5,706.7C217.4,706.7 220.3,707.1 223.1,707.1C227.1,707.1 231.0,707.1 235.0,707.1C236.8,707.1 238.6,707.0 240.4,706.7C241.5,706.5 242.6,705.0 243.6,705.0C245.1,705.0 246.5,706.0 247.9,706.0C249.4,706.0 250.8,705.0 252.3,705.0C253.7,705.0 255.1,706.7 256.6,706.7C258.7,706.7 260.9,706.7 263.1,706.7C265.2,706.7 267.4,706.4 269.5,706.0C271.0,705.8 272.4,705.3 273.8,705.0C274.9,704.7 276.0,704.3 277.1,704.3C278.2,704.3 279.2,705.8 280.3,706.0C282.5,706.6 284.6,707.1 286.8,707.1C289.7,707.1 292.6,706.7 295.4,706.7C298.3,706.7 301.2,707.1 304.1,707.1C306.9,707.1 309.8,706.5 312.7,706.5C314.9,706.5 317.0,707.1 319.2,707.1C321.0,707.1 322.8,707.0 324.6,706.7C325.8,706.5 327.0,703.9 328.2,703.9C329.2,703.9 330.1,704.2 331.0,704.5C332.5,705.0 333.9,706.7 335.4,706.7C337.2,706.7 339.0,705.9 340.8,705.6C342.2,705.4 343.6,705.0 345.1,705.0C346.5,705.0 347.9,706.7 349.4,706.7C351.5,706.7 353.7,706.0 355.9,706.0C357.3,706.0 358.7,706.7 360.2,706.7C361.6,706.7 363.1,705.0 364.5,705.0C365.9,705.0 367.4,706.0 368.8,706.0C370.3,706.0 371.7,703.9 373.1,703.9C374.2,703.9 375.3,704.5 376.4,705.0C377.4,705.4 378.5,706.7 379.6,706.7C381.4,706.7 383.2,706.7 385.0,706.7C386.4,706.7 387.9,705.0 389.3,705.0C390.8,705.0 392.2,706.0 393.6,706.0C395.1,706.0 396.5,705.0 397.9,705.0C399.4,705.0 400.8,706.0 402.3,706.0C403.7,706.0 405.1,705.0 406.6,705.0C408.0,705.0 409.5,705.0 410.9,705.0C412.3,705.0 413.8,705.0 415.2,705.0C416.7,705.0 418.1,704.5 419.5,704.5C421.0,704.5 422.4,705.6 423.8,706.0C425.3,706.5 426.7,707.1 428.2,707.1C428.9,707.1 429.6,705.7 430.3,705.0C430.9,704.4 431.5,703.2 432.1,703.2C432.9,703.2 433.8,704.1 434.6,704.5C435.7,705.1 436.8,706.0 437.9,706.0C439.3,706.0 440.8,705.5 442.2,705.0C443.6,704.4 445.1,702.4 446.5,701.7C447.4,701.3 448.4,700.6 449.3,700.6C450.2,700.6 451.0,703.2 451.9,703.9C452.5,704.4 453.1,705.0 453.6,705.0C454.5,705.0 455.4,700.3 456.2,698.5C456.9,697.0 457.7,694.6 458.4,694.6C459.1,694.6 459.8,696.0 460.5,697.4C461.3,698.8 462.0,705.0 462.7,705.0C463.8,705.0 464.9,703.7 465.9,702.8C466.9,702.0 467.8,700.5 468.7,699.6C469.7,698.5 470.8,696.8 471.8,696.8C472.7,696.8 473.6,698.2 474.6,698.9C475.6,699.8 476.7,701.7 477.8,701.7C478.9,701.7 480.0,699.6 481.0,698.5C481.8,697.8 482.5,696.3 483.2,696.3C483.9,696.3 484.6,697.6 485.4,698.5C486.3,699.7 487.2,702.5 488.2,703.2C489.0,703.9 489.9,704.5 490.8,704.5C491.6,704.5 492.5,703.2 493.3,702.8C494.3,702.3 495.2,701.7 496.2,701.7C497.1,701.7 498.0,705.0 499.0,705.0C499.8,705.0 500.7,704.8 501.5,704.5C502.4,704.3 503.3,702.8 504.1,702.8C505.1,702.8 506.0,704.5 506.9,705.0C508.0,705.5 509.1,706.0 510.2,706.0C511.6,706.0 513.1,705.0 514.5,705.0C516.3,705.0 518.1,706.0 519.9,706.0C521.3,706.0 522.8,705.0 524.2,705.0C526.0,705.0 527.8,705.8 529.6,706.0C531.4,706.3 533.2,706.5 535.0,706.7"/>
<path d="M87.2,725.5C97.2,725.5 107.3,725.5 117.4,725.5C120.3,725.5 123.1,725.0 126.0,724.8C128.9,724.6 131.8,724.6 134.6,724.4C137.5,724.2 140.4,723.0 143.3,722.7C145.1,722.5 146.9,722.5 148.7,722.2C149.7,722.1 150.8,719.8 151.9,717.9C152.6,716.6 153.3,713.1 154.1,712.5C155.1,711.6 156.2,711.5 157.3,711.0C158.4,710.5 159.5,710.0 160.5,709.3C161.4,708.7 162.3,708.2 163.1,707.1C163.8,706.2 164.6,701.7 165.3,701.7C165.9,701.7 166.4,704.4 167.0,706.0C167.6,707.6 168.2,710.8 168.7,711.4C169.6,712.4 170.5,712.5 171.3,713.2C172.2,713.9 173.1,715.8 173.9,715.8C174.9,715.8 175.8,715.2 176.7,714.7C177.4,714.3 178.2,712.5 178.9,712.5C179.8,712.5 180.8,716.0 181.7,716.8C182.9,717.9 184.1,718.6 185.4,719.0C186.4,719.3 187.5,719.3 188.6,719.6C189.7,719.9 190.8,720.7 191.8,721.2C193.3,721.7 194.7,722.7 196.2,722.7C197.6,722.7 199.0,721.8 200.5,721.8C201.5,721.8 202.6,722.7 203.7,722.7C204.4,722.7 205.1,721.2 205.9,721.2C206.9,721.2 208.0,723.3 209.1,723.3C210.9,723.3 212.7,723.3 214.5,723.3C217.4,723.3 220.3,722.7 223.1,722.7C227.1,722.7 231.0,723.3 235.0,723.3C237.9,723.3 240.8,722.9 243.6,722.9C244.4,722.9 245.1,724.1 245.8,724.1C247.9,724.1 250.1,723.7 252.3,723.3C253.7,723.1 255.1,722.2 256.6,722.2C258.0,722.2 259.5,724.1 260.9,724.1C261.6,724.1 262.3,723.3 263.1,723.3C263.8,723.3 264.5,724.7 265.2,724.7C266.7,724.7 268.1,724.0 269.5,724.0C271.0,724.0 272.4,724.7 273.8,724.7C275.3,724.7 276.7,723.3 278.2,723.3C279.6,723.3 281.0,724.3 282.5,724.3C283.9,724.3 285.4,724.1 286.8,724.0C288.2,723.8 289.7,723.7 291.1,723.6C292.6,723.5 294.0,723.3 295.4,723.3C296.9,723.3 298.3,724.7 299.7,724.7C301.2,724.7 302.6,723.3 304.1,723.3C305.5,723.3 306.9,724.1 308.4,724.1C309.8,724.1 311.3,723.8 312.7,723.7C313.4,723.7 314.1,723.7 314.9,723.6C315.6,723.6 316.3,722.2 317.0,722.2C317.2,722.2 317.3,722.4 317.4,722.6C318.4,723.3 319.3,724.7 320.3,724.7C320.6,724.7 321.0,724.0 321.3,724.0C322.8,724.0 324.2,724.1 325.6,724.1C326.4,724.1 327.1,723.4 327.8,723.3C330.0,722.9 332.1,722.7 334.3,722.7C336.4,722.7 338.6,723.0 340.8,723.3C341.5,723.4 342.2,723.6 342.9,723.6C344.4,723.6 345.8,722.7 347.2,722.7C347.6,722.7 347.9,723.2 348.3,723.2C350.1,723.3 351.9,723.3 353.7,723.3C356.6,723.4 359.5,724.1 362.3,724.1C363.1,724.1 363.8,722.7 364.5,722.7C365.9,722.7 367.4,723.2 368.8,723.2C371.0,723.3 373.1,723.2 375.3,723.3C376.0,723.3 376.7,723.6 377.4,723.6C380.0,723.6 382.5,722.8 385.0,722.2C385.9,722.0 386.7,721.8 387.6,721.5C388.5,721.2 389.5,720.4 390.4,720.4C391.1,720.4 391.8,721.4 392.6,721.9C393.3,722.4 394.0,723.6 394.7,723.6C396.5,723.6 398.3,722.6 400.1,722.6C402.3,722.6 404.4,723.2 406.6,723.2C409.5,723.2 412.3,721.9 415.2,721.9C418.1,721.9 421.0,722.3 423.8,722.6C426.0,722.8 428.2,723.6 430.3,723.6C433.2,723.6 436.1,722.6 439.0,722.6C441.1,722.6 443.3,724.1 445.4,724.1C448.3,724.1 451.2,723.2 454.1,723.2C456.9,723.2 459.8,723.5 462.7,723.6C465.6,723.8 468.5,724.3 471.3,724.3C474.2,724.3 477.1,724.1 480.0,724.1C482.8,724.1 485.7,724.7 488.6,724.7C491.5,724.7 494.4,724.5 497.2,724.3C500.1,724.1 503.0,723.6 505.9,723.6C508.7,723.6 511.6,724.1 514.5,724.1C517.4,724.1 520.3,724.1 523.1,724.1C527.1,724.1 531.0,723.8 535.0,723.6"/>
<path d="M85.0,743.1C97.9,743.1 110.9,743.1 123.8,743.1C126.0,743.1 128.2,742.2 130.3,742.2C132.1,742.2 133.9,743.1 135.7,743.1C137.2,743.1 138.6,741.8 140.0,741.3C141.8,740.7 143.6,740.4 145.4,739.8C146.9,739.4 148.3,739.2 149.7,738.3C150.6,737.8 151.5,734.8 152.3,733.3C153.3,731.7 154.2,729.9 155.1,729.0C156.2,728.0 157.3,726.9 158.4,726.9C159.2,726.9 160.1,726.9 161.0,726.9C161.7,726.9 162.4,725.5 163.1,724.7C163.8,723.9 164.6,721.9 165.3,721.9C165.9,721.9 166.4,723.6 167.0,724.7C167.9,726.4 168.7,729.4 169.6,731.2C170.2,732.4 170.8,733.7 171.3,734.4C172.1,735.4 172.8,736.6 173.5,736.6C174.2,736.6 174.9,735.3 175.6,734.4C176.5,733.4 177.4,730.5 178.2,730.5C178.8,730.5 179.4,731.9 180.0,732.7C180.8,733.9 181.7,736.2 182.6,737.0C183.5,737.9 184.4,738.7 185.4,738.7C186.4,738.7 187.5,738.3 188.6,738.3C189.7,738.3 190.8,739.2 191.8,739.2C192.8,739.2 193.7,737.7 194.6,737.7C195.5,737.7 196.4,739.4 197.2,739.8C198.7,740.6 200.1,741.3 201.5,741.3C203.0,741.3 204.4,740.5 205.9,740.5C207.3,740.5 208.7,742.0 210.2,742.0C211.6,742.0 213.1,740.9 214.5,740.9C215.9,740.9 217.4,741.8 218.8,742.0C221.0,742.3 223.1,742.6 225.3,742.6C228.5,742.6 231.8,742.0 235.0,742.0C237.2,742.0 239.3,742.0 241.5,742.0C243.6,742.0 245.8,741.4 247.9,740.9C249.0,740.7 250.1,739.8 251.2,739.8C252.6,739.8 254.1,740.5 255.5,740.5C256.6,740.5 257.7,739.8 258.7,739.8C260.2,739.8 261.6,742.0 263.1,742.0C264.9,742.0 266.7,740.9 268.5,740.9C269.9,740.9 271.3,741.8 272.8,742.0C274.6,742.2 276.4,742.4 278.2,742.4C280.0,742.4 281.8,742.2 283.6,742.0C284.6,741.8 285.7,740.5 286.8,740.5C288.2,740.5 289.7,742.0 291.1,742.0C294.0,742.0 296.9,742.0 299.7,742.0C301.9,742.0 304.1,742.0 306.2,742.0C307.7,742.0 309.1,740.5 310.5,740.5C311.6,740.5 312.7,741.1 313.8,741.3C315.6,741.8 317.4,742.6 319.2,742.6C321.3,742.6 323.5,742.2 325.6,742.0C327.8,741.8 330.0,741.3 332.1,741.3C334.3,741.3 336.4,742.0 338.6,742.0C340.8,742.0 342.9,742.0 345.1,742.0C347.2,742.0 349.4,742.0 351.5,742.0C353.7,742.0 355.9,742.6 358.0,742.6C360.2,742.6 362.3,742.3 364.5,742.0C366.3,741.7 368.1,740.9 369.9,740.9C371.0,740.9 372.1,742.0 373.1,742.0C376.0,742.0 378.9,742.0 381.8,742.0C382.8,742.0 383.9,741.8 385.0,741.8C387.2,741.6 389.3,741.5 391.5,741.3C393.6,741.1 395.8,740.5 397.9,740.5C400.1,740.5 402.3,740.5 404.4,740.5C406.6,740.5 408.7,739.6 410.9,739.4C413.4,739.1 415.9,739.1 418.5,738.7C420.3,738.5 422.1,737.5 423.8,736.6C425.3,735.9 426.7,734.7 428.2,734.0C429.6,733.3 431.0,732.3 432.5,732.3C433.9,732.3 435.4,732.5 436.8,732.7C438.2,732.9 439.7,734.0 441.1,734.4C443.3,735.1 445.4,735.9 447.6,736.2C449.7,736.4 451.9,736.4 454.1,736.6C455.5,736.7 456.9,737.2 458.4,737.2C459.8,737.2 461.3,736.9 462.7,736.6C464.1,736.3 465.6,735.5 467.0,735.5C468.5,735.5 469.9,735.8 471.3,735.9C472.8,736.1 474.2,736.3 475.6,736.6C477.1,736.9 478.5,738.0 480.0,738.3C482.1,738.8 484.3,738.9 486.4,739.2C488.6,739.4 490.8,739.8 492.9,739.8C495.8,739.8 498.7,739.8 501.5,739.8C503.7,739.8 505.9,740.7 508.0,740.9C510.2,741.1 512.3,741.3 514.5,741.3C521.3,741.3 528.2,741.3 535.0,741.3"/>
<path d="M87.2,760.8C98.7,760.8 110.2,760.8 121.7,760.8C123.8,760.8 126.0,760.3 128.2,760.3C131.0,760.3 133.9,760.3 136.8,760.3C139.0,760.3 141.1,758.7 143.3,758.2C145.1,757.7 146.9,757.7 148.7,757.1C149.4,756.8 150.1,755.9 150.8,754.9C151.5,753.9 152.3,751.0 153.0,750.0C153.9,748.6 154.9,747.2 155.8,746.9C157.0,746.6 158.2,746.6 159.5,746.3C160.2,746.1 160.9,745.8 161.6,745.2C162.3,744.6 163.1,739.8 163.8,739.2C164.3,738.7 164.8,738.3 165.3,738.3C165.9,738.3 166.4,740.7 167.0,742.0C167.7,743.6 168.5,746.0 169.2,747.4C169.9,748.7 170.6,749.7 171.3,750.6C172.1,751.5 172.8,752.8 173.5,752.8C174.2,752.8 174.9,750.6 175.6,749.5C176.4,748.5 177.1,746.3 177.8,746.3C178.4,746.3 179.0,746.8 179.5,747.4C180.3,748.1 181.0,752.5 181.7,753.4C182.6,754.5 183.4,755.6 184.3,755.6C185.7,755.6 187.2,754.3 188.6,754.3C189.7,754.3 190.8,754.6 191.8,754.9C192.9,755.3 194.0,758.2 195.1,758.2C196.2,758.2 197.2,757.1 198.3,757.1C199.4,757.1 200.5,757.1 201.5,757.1C202.6,757.1 203.7,758.9 204.8,759.2C206.6,759.8 208.4,760.3 210.2,760.3C213.1,760.3 215.9,759.2 218.8,759.2C221.7,759.2 224.6,759.9 227.4,759.9C230.0,759.9 232.5,759.2 235.0,759.2C237.9,759.2 240.8,759.7 243.6,759.7C245.1,759.7 246.5,759.4 247.9,759.2C250.1,758.9 252.3,757.5 254.4,757.5C256.6,757.5 258.7,758.2 260.9,758.2C263.8,758.2 266.7,757.7 269.5,757.7C272.4,757.7 275.3,758.2 278.2,758.2C281.0,758.2 283.9,758.2 286.8,758.2C289.7,758.2 292.6,758.2 295.4,758.2C298.3,758.2 301.2,758.6 304.1,758.6C306.9,758.6 309.8,758.2 312.7,758.2C314.9,758.2 317.0,759.7 319.2,759.7C321.3,759.7 323.5,759.4 325.6,759.2C327.8,759.1 330.0,758.6 332.1,758.6C335.0,758.6 337.9,759.2 340.8,759.2C343.6,759.2 346.5,758.8 349.4,758.8C352.3,758.8 355.1,759.2 358.0,759.2C360.9,759.2 363.8,759.2 366.7,759.2C369.5,759.2 372.4,758.8 375.3,758.8C378.5,758.8 381.8,759.2 385.0,759.2C386.1,759.2 387.2,757.6 388.2,757.1C389.3,756.6 390.4,756.0 391.5,756.0C393.6,756.0 395.8,756.8 397.9,757.1C400.8,757.5 403.7,757.8 406.6,758.2C410.2,758.6 413.8,759.2 417.4,759.2C421.0,759.2 424.6,759.0 428.2,758.8C431.8,758.6 435.4,758.4 439.0,758.2C441.8,758.0 444.7,757.5 447.6,757.5C450.5,757.5 453.3,758.8 456.2,758.8C459.1,758.8 462.0,758.8 464.9,758.8C468.5,758.8 472.1,759.2 475.6,759.2C479.2,759.2 482.8,759.2 486.4,759.2C490.0,759.2 493.6,759.9 497.2,759.9C500.8,759.9 504.4,759.8 508.0,759.7C510.9,759.6 513.8,758.6 516.7,758.6C519.5,758.6 522.4,759.2 525.3,759.2C528.5,759.2 531.8,758.1 535.0,757.5"/>
<path d="M87.2,778.2C98.7,778.2 110.2,778.2 121.7,778.2C123.8,778.2 126.0,777.6 128.2,777.6C130.7,777.6 133.2,778.0 135.7,778.0C137.2,778.0 138.6,776.9 140.0,776.5C141.8,776.0 143.6,775.9 145.4,775.4C146.7,775.1 148.0,774.6 149.3,773.7C150.2,773.1 151.0,771.4 151.9,770.0C152.8,768.7 153.6,766.3 154.5,765.7C155.8,764.9 157.1,764.6 158.4,764.2C159.2,763.9 160.1,764.0 161.0,763.6C161.7,763.2 162.4,758.7 163.1,757.7C163.6,757.1 164.0,756.4 164.4,756.4C165.1,756.4 165.9,759.0 166.6,760.3C167.3,761.7 168.0,763.3 168.7,764.6C169.5,766.0 170.2,767.6 170.9,768.5C171.6,769.5 172.3,770.7 173.1,770.7C173.9,770.7 174.8,768.9 175.6,767.9C176.4,767.1 177.1,765.3 177.8,765.3C178.5,765.3 179.2,766.7 180.0,767.9C180.5,768.8 181.1,771.5 181.7,772.2C182.6,773.3 183.4,774.4 184.3,774.4C185.4,774.4 186.4,774.0 187.5,773.7C188.5,773.4 189.4,772.2 190.3,772.2C191.2,772.2 192.1,772.7 192.9,773.3C193.8,773.8 194.6,776.1 195.5,776.5C196.8,777.1 198.1,777.6 199.4,777.6C200.5,777.6 201.5,776.5 202.6,776.5C203.7,776.5 204.8,777.6 205.9,777.6C208.7,777.6 211.6,777.6 214.5,777.6C217.4,777.6 220.3,777.6 223.1,777.6C227.1,777.6 231.0,776.1 235.0,776.1C237.9,776.1 240.8,776.1 243.6,776.1C245.1,776.1 246.5,776.1 247.9,776.1C250.5,776.1 253.0,774.4 255.5,774.4C258.0,774.4 260.5,774.8 263.1,775.0C265.2,775.2 267.4,775.4 269.5,775.4C272.4,775.4 275.3,774.4 278.2,774.4C281.0,774.4 283.9,774.4 286.8,774.4C289.0,774.4 291.1,773.7 293.3,773.7C295.4,773.7 297.6,775.4 299.7,775.4C302.6,775.4 305.5,774.4 308.4,774.4C311.3,774.4 314.1,775.0 317.0,775.4C318.5,775.6 319.9,776.1 321.3,776.1C323.5,776.1 325.6,775.6 327.8,775.4C330.7,775.2 333.6,775.0 336.4,775.0C339.3,775.0 342.2,775.9 345.1,775.9C347.9,775.9 350.8,775.3 353.7,775.0C355.9,774.8 358.0,774.4 360.2,774.4C361.6,774.4 363.1,775.9 364.5,776.1C366.7,776.3 368.8,776.3 371.0,776.5C373.1,776.7 375.3,777.0 377.4,777.2C380.0,777.3 382.5,777.6 385.0,777.6C387.9,777.6 390.8,776.7 393.6,776.7C396.5,776.7 399.4,777.6 402.3,777.6C405.1,777.6 408.0,777.3 410.9,777.2C413.8,777.1 416.7,777.0 419.5,776.9C423.1,776.8 426.7,776.1 430.3,776.1C432.5,776.1 434.6,777.2 436.8,777.2C439.7,777.2 442.6,776.5 445.4,776.5C448.3,776.5 451.2,776.5 454.1,776.5C456.9,776.5 459.8,776.1 462.7,776.1C465.6,776.1 468.5,776.1 471.3,776.1C474.2,776.1 477.1,776.3 480.0,776.5C482.1,776.7 484.3,777.0 486.4,777.2C489.3,777.4 492.2,777.6 495.1,777.6C497.9,777.6 500.8,777.0 503.7,776.9C507.3,776.8 510.9,776.8 514.5,776.7C517.4,776.7 520.3,776.5 523.1,776.5C527.1,776.5 531.0,776.5 535.0,776.5"/>
<path d="M87.2,796.6C93.6,796.4 100.1,795.9 106.6,795.9C110.9,795.9 115.2,795.9 119.5,795.9C122.4,795.9 125.3,795.5 128.2,795.3C131.0,795.1 133.9,795.1 136.8,794.9C138.2,794.7 139.7,794.1 141.1,793.8C142.9,793.4 144.7,793.3 146.5,792.7C147.6,792.4 148.7,791.6 149.7,790.5C150.6,789.7 151.5,787.4 152.3,786.2C153.3,784.9 154.2,783.8 155.1,783.0C156.1,782.1 157.0,781.7 157.9,780.8C158.8,780.0 159.7,778.9 160.5,777.6C161.3,776.5 162.0,773.7 162.7,773.7C163.3,773.7 163.8,774.7 164.4,775.4C165.1,776.4 165.9,778.6 166.6,779.7C167.4,781.1 168.3,781.6 169.2,783.0C169.9,784.1 170.6,787.3 171.3,787.3C172.1,787.3 172.8,785.2 173.5,784.1C174.4,782.7 175.2,779.7 176.1,779.7C176.8,779.7 177.5,780.8 178.2,781.9C178.8,782.8 179.4,785.9 180.0,787.3C180.7,789.1 181.4,791.6 182.1,791.6C183.2,791.6 184.3,790.4 185.4,790.1C186.4,789.8 187.5,789.5 188.6,789.5C189.5,789.5 190.3,790.1 191.2,790.5C192.3,791.2 193.5,793.8 194.6,793.8C195.5,793.8 196.4,793.4 197.2,793.1C198.7,792.7 200.1,791.6 201.5,791.6C202.6,791.6 203.7,793.5 204.8,793.8C206.2,794.1 207.7,794.4 209.1,794.4C210.9,794.4 212.7,793.4 214.5,793.1C217.4,792.7 220.3,792.7 223.1,792.3C225.3,792.0 227.4,791.0 229.6,791.0C231.4,791.0 233.2,791.0 235.0,791.0C237.2,791.0 239.3,792.1 241.5,792.3C243.6,792.5 245.8,792.5 247.9,792.7C250.8,792.9 253.7,793.8 256.6,793.8C259.5,793.8 262.3,793.1 265.2,793.1C268.1,793.1 271.0,793.1 273.8,793.1C276.7,793.1 279.6,793.5 282.5,793.8C285.4,794.0 288.2,794.9 291.1,794.9C294.0,794.9 296.9,793.8 299.7,793.8C302.6,793.8 305.5,793.8 308.4,793.8C311.3,793.8 314.1,793.8 317.0,793.8C319.9,793.8 322.8,793.0 325.6,792.7C327.1,792.5 328.5,792.3 330.0,792.3C332.8,792.3 335.7,793.1 338.6,793.1C340.8,793.1 342.9,793.1 345.1,793.1C347.2,793.1 349.4,793.6 351.5,793.8C354.4,794.0 357.3,794.4 360.2,794.4C363.1,794.4 365.9,794.4 368.8,794.4C371.7,794.4 374.6,793.3 377.4,793.3C380.0,793.3 382.5,794.0 385.0,794.0C387.9,794.0 390.8,794.0 393.6,794.0C396.5,794.0 399.4,794.4 402.3,794.4C405.1,794.4 408.0,793.8 410.9,793.8C413.8,793.8 416.7,794.4 419.5,794.4C422.4,794.4 425.3,793.0 428.2,792.7C430.7,792.4 433.2,792.1 435.7,792.1C437.5,792.1 439.3,793.8 441.1,793.8C442.6,793.8 444.0,793.4 445.4,793.1C446.9,792.9 448.3,792.3 449.7,792.3C451.2,792.3 452.6,792.7 454.1,792.7C456.2,792.7 458.4,792.1 460.5,792.1C462.7,792.1 464.9,792.9 467.0,793.1C469.9,793.4 472.8,793.6 475.6,793.8C478.5,794.0 481.4,794.4 484.3,794.4C487.2,794.4 490.0,794.4 492.9,794.4C496.5,794.4 500.1,794.4 503.7,794.4C507.3,794.4 510.9,794.4 514.5,794.4C517.4,794.4 520.3,793.8 523.1,793.8C527.1,793.8 531.0,794.2 535.0,794.4"/>
<path d="M87.2,813.8C97.9,813.8 108.7,813.8 119.5,813.8C121.7,813.8 123.8,813.5 126.0,813.2C127.4,813.0 128.9,812.6 130.3,812.6C131.8,812.6 133.2,813.8 134.6,813.8C136.1,813.8 137.5,811.6 139.0,811.0C140.4,810.5 141.8,810.3 143.3,810.0C145.1,809.6 146.9,809.6 148.7,808.9C149.6,808.5 150.5,805.2 151.5,803.9C152.3,802.7 153.2,801.6 154.1,800.9C154.9,800.2 155.8,799.9 156.7,799.2C157.6,798.4 158.5,797.5 159.5,795.9C160.2,794.7 160.9,789.5 161.6,789.5C162.0,789.5 162.3,790.1 162.7,790.5C163.4,791.5 164.1,793.9 164.9,794.9C165.6,795.8 166.3,795.9 167.0,797.0C167.7,798.1 168.5,802.1 169.2,803.5C169.7,804.6 170.3,806.1 170.9,806.1C171.4,806.1 171.9,804.7 172.4,803.5C172.9,802.3 173.4,799.2 173.9,798.1C174.5,796.8 175.1,795.3 175.6,795.3C176.2,795.3 176.8,796.7 177.4,798.1C177.9,799.3 178.4,803.0 178.9,804.6C179.6,806.9 180.3,810.0 181.0,810.0C182.1,810.0 183.2,809.3 184.3,808.9C185.4,808.5 186.4,807.4 187.5,807.4C188.6,807.4 189.7,808.5 190.8,808.9C192.2,809.4 193.6,809.5 195.1,810.0C196.2,810.3 197.2,811.7 198.3,811.7C199.7,811.7 201.2,810.0 202.6,810.0C203.7,810.0 204.8,810.8 205.9,811.0C207.3,811.3 208.7,811.7 210.2,811.7C211.6,811.7 213.1,810.0 214.5,810.0C215.9,810.0 217.4,811.0 218.8,811.0C220.3,811.0 221.7,810.3 223.1,810.0C224.6,809.6 226.0,808.9 227.4,808.9C228.5,808.9 229.6,809.7 230.7,810.0C232.1,810.4 233.6,811.0 235.0,811.0C236.1,811.0 237.2,810.3 238.2,810.0C239.3,809.6 240.4,809.3 241.5,808.9C242.6,808.5 243.6,807.4 244.7,807.4C245.4,807.4 246.2,808.7 246.9,808.9C247.9,809.2 249.0,809.5 250.1,809.5C251.2,809.5 252.3,806.3 253.3,806.1C254.4,805.8 255.5,805.8 256.6,805.6C257.7,805.5 258.7,805.5 259.8,805.2C260.5,805.1 261.3,804.1 262.0,803.9C262.7,803.7 263.4,803.5 264.1,803.5C264.9,803.5 265.6,804.6 266.3,805.2C267.0,805.9 267.7,807.4 268.5,807.4C269.2,807.4 269.9,806.1 270.6,806.1C271.7,806.1 272.8,806.4 273.8,806.7C275.3,807.1 276.7,808.4 278.2,808.9C279.6,809.4 281.0,809.6 282.5,810.0C283.9,810.3 285.4,811.0 286.8,811.0C288.2,811.0 289.7,810.4 291.1,810.4C292.6,810.4 294.0,810.8 295.4,811.0C296.9,811.3 298.3,812.1 299.7,812.1C301.2,812.1 302.6,811.7 304.1,811.7C305.5,811.7 306.9,812.6 308.4,812.6C309.8,812.6 311.3,812.0 312.7,811.7C314.9,811.3 317.0,810.8 319.2,810.4C320.6,810.1 322.1,810.0 323.5,809.5C324.2,809.3 324.9,808.2 325.6,808.2C327.1,808.2 328.5,809.5 330.0,809.5C331.0,809.5 332.1,808.9 333.2,808.9C334.3,808.9 335.4,809.7 336.4,810.0C337.9,810.4 339.3,810.8 340.8,811.0C342.2,811.3 343.6,811.7 345.1,811.7C346.5,811.7 347.9,811.0 349.4,811.0C350.8,811.0 352.3,811.7 353.7,811.7C355.1,811.7 356.6,811.0 358.0,811.0C359.5,811.0 360.9,812.1 362.3,812.1C364.5,812.1 366.7,811.9 368.8,811.7C371.0,811.5 373.1,811.4 375.3,811.0C376.7,810.8 378.2,810.0 379.6,810.0C380.7,810.0 381.8,811.2 382.8,811.7C383.6,812.0 384.3,812.6 385.0,812.6C387.9,812.6 390.8,812.3 393.6,812.1C396.5,811.9 399.4,811.0 402.3,811.0C403.7,811.0 405.1,812.1 406.6,812.1C409.5,812.1 412.3,811.0 415.2,811.0C418.1,811.0 421.0,811.5 423.8,811.7C426.7,811.9 429.6,812.1 432.5,812.1C435.4,812.1 438.2,811.6 441.1,811.5C444.0,811.3 446.9,811.2 449.7,811.0C452.6,810.9 455.5,810.6 458.4,810.4C459.8,810.3 461.3,810.0 462.7,810.0C464.9,810.0 467.0,811.5 469.2,811.5C470.6,811.5 472.1,811.0 473.5,811.0C474.9,811.0 476.4,812.0 477.8,812.1C480.0,812.4 482.1,812.6 484.3,812.6C487.2,812.6 490.0,812.1 492.9,812.1C495.8,812.1 498.7,812.3 501.5,812.6C503.0,812.7 504.4,813.2 505.9,813.2C507.3,813.2 508.7,811.0 510.2,811.0C511.6,811.0 513.1,811.7 514.5,811.7C517.4,811.7 520.3,811.0 523.1,811.0C524.6,811.0 526.0,811.7 527.4,811.7C528.9,811.7 530.3,811.7 531.8,811.7C532.8,811.7 533.9,812.3 535.0,812.6"/>
</g>
<g fill="#222"><text class="serif" transform="translate(592,873.4) scale(0.77,1)" font-size="21.5">IRIS</text></g>
<path d="M592.5,856.7H604L606,855L607.4,851L608.6,857L610,856H621.8" stroke="#aab08a" stroke-width="0.7" fill="none"/>
<text class="sans" x="583.8" y="879.8" font-size="6.2" fill="#666" textLength="47.2" lengthAdjust="spacingAndGlyphs">www.iris.edu/spud</text>
</svg></body></html>
